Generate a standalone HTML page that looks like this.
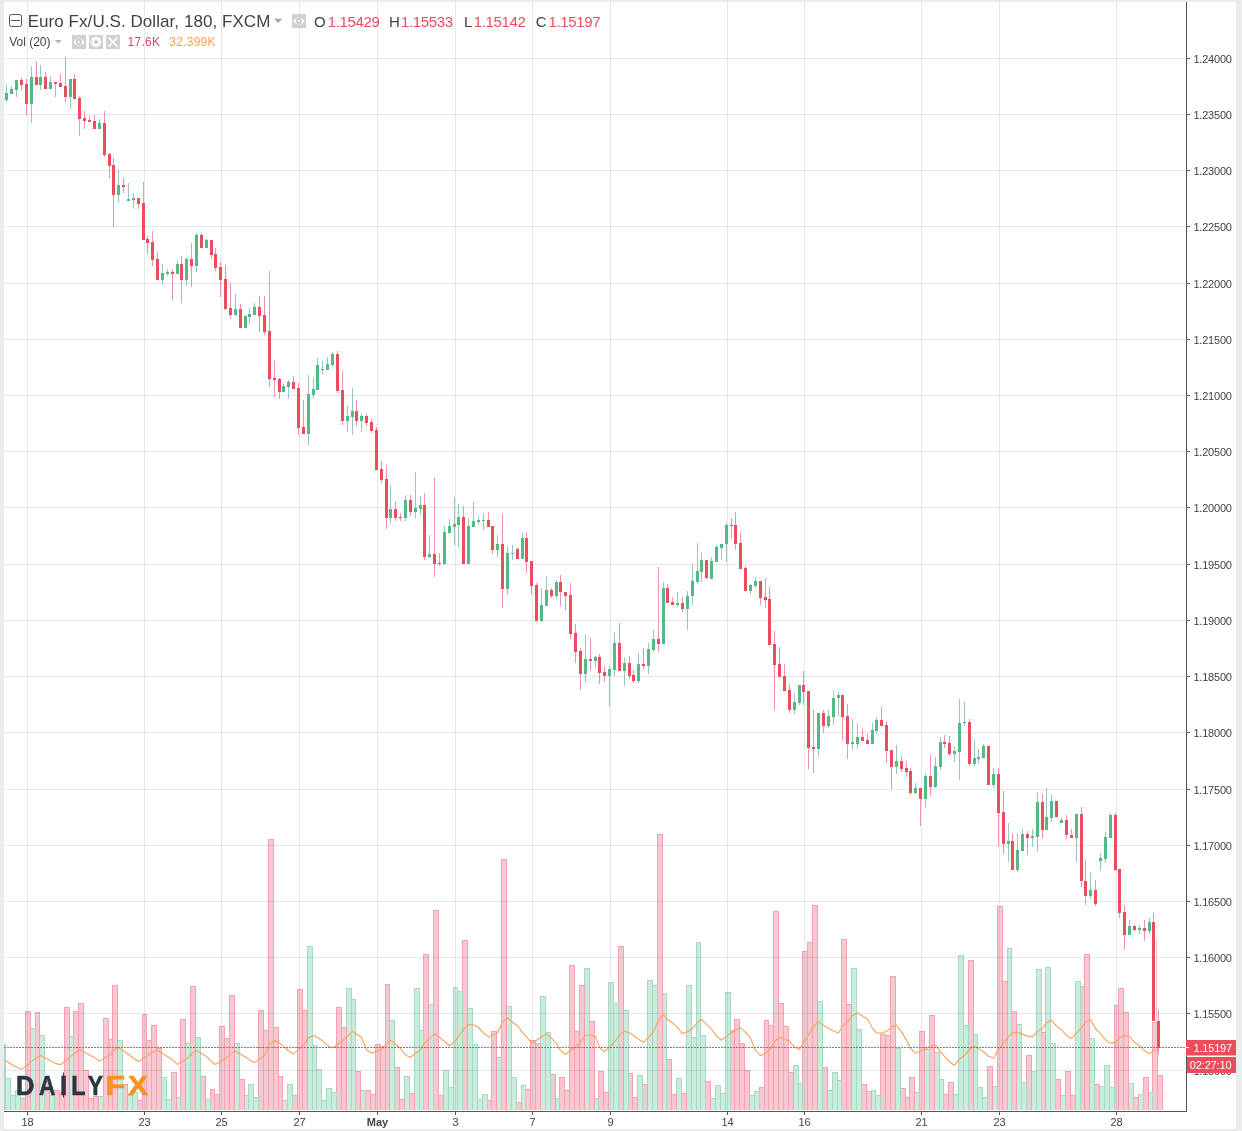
<!DOCTYPE html><html><head><meta charset="utf-8"><title>EUR/USD chart</title><style>html,body{margin:0;padding:0;background:#e9edf0;}body{width:1242px;height:1131px;position:relative;overflow:hidden;}</style></head><body><svg width="1242" height="1131" viewBox="0 0 1242 1131" style="position:absolute;left:0;top:0">
<rect x="0" y="0" width="1242" height="1131" fill="#e9edf0"/>
<rect x="4" y="2" width="1232" height="1127" rx="3" ry="3" fill="#ffffff"/>
<g shape-rendering="crispEdges">
<rect x="1157" y="1075" width="6" height="35" fill="#f2a2b4"/>
<rect x="1158" y="1076" width="4" height="34" fill="#f8c8d0"/>
<rect x="1152" y="1022" width="6" height="88" fill="#f2a2b4"/>
<rect x="1153" y="1023" width="4" height="87" fill="#f8c8d0"/>
<rect x="1148" y="1092" width="5" height="18" fill="#a5dbc3"/>
<rect x="1149" y="1093" width="3" height="17" fill="#caecdc"/>
<rect x="1143" y="1077" width="6" height="33" fill="#f2a2b4"/>
<rect x="1144" y="1078" width="4" height="32" fill="#f8c8d0"/>
<rect x="1138" y="1094" width="6" height="16" fill="#a5dbc3"/>
<rect x="1139" y="1095" width="4" height="15" fill="#caecdc"/>
<rect x="1133" y="1097" width="6" height="13" fill="#f2a2b4"/>
<rect x="1134" y="1098" width="4" height="12" fill="#f8c8d0"/>
<rect x="1128" y="1083" width="6" height="27" fill="#a5dbc3"/>
<rect x="1129" y="1084" width="4" height="26" fill="#caecdc"/>
<rect x="1123" y="1012" width="6" height="98" fill="#f2a2b4"/>
<rect x="1124" y="1013" width="4" height="97" fill="#f8c8d0"/>
<rect x="1118" y="988" width="6" height="122" fill="#f2a2b4"/>
<rect x="1119" y="989" width="4" height="121" fill="#f8c8d0"/>
<rect x="1114" y="1005" width="5" height="105" fill="#f2a2b4"/>
<rect x="1115" y="1006" width="3" height="104" fill="#f8c8d0"/>
<rect x="1109" y="1087" width="6" height="23" fill="#a5dbc3"/>
<rect x="1110" y="1088" width="4" height="22" fill="#caecdc"/>
<rect x="1104" y="1065" width="6" height="45" fill="#a5dbc3"/>
<rect x="1105" y="1066" width="4" height="44" fill="#caecdc"/>
<rect x="1099" y="1086" width="6" height="24" fill="#a5dbc3"/>
<rect x="1100" y="1087" width="4" height="23" fill="#caecdc"/>
<rect x="1094" y="1084" width="6" height="26" fill="#f2a2b4"/>
<rect x="1095" y="1085" width="4" height="25" fill="#f8c8d0"/>
<rect x="1089" y="1038" width="6" height="72" fill="#a5dbc3"/>
<rect x="1090" y="1039" width="4" height="71" fill="#caecdc"/>
<rect x="1084" y="954" width="6" height="156" fill="#f2a2b4"/>
<rect x="1085" y="955" width="4" height="155" fill="#f8c8d0"/>
<rect x="1080" y="986" width="5" height="124" fill="#f2a2b4"/>
<rect x="1081" y="987" width="3" height="123" fill="#f8c8d0"/>
<rect x="1075" y="981" width="6" height="129" fill="#a5dbc3"/>
<rect x="1076" y="982" width="4" height="128" fill="#caecdc"/>
<rect x="1070" y="1095" width="6" height="15" fill="#f2a2b4"/>
<rect x="1071" y="1096" width="4" height="14" fill="#f8c8d0"/>
<rect x="1065" y="1071" width="6" height="39" fill="#f2a2b4"/>
<rect x="1066" y="1072" width="4" height="38" fill="#f8c8d0"/>
<rect x="1060" y="1095" width="6" height="15" fill="#a5dbc3"/>
<rect x="1061" y="1096" width="4" height="14" fill="#caecdc"/>
<rect x="1055" y="1079" width="6" height="31" fill="#f2a2b4"/>
<rect x="1056" y="1080" width="4" height="30" fill="#f8c8d0"/>
<rect x="1050" y="1043" width="6" height="67" fill="#a5dbc3"/>
<rect x="1051" y="1044" width="4" height="66" fill="#caecdc"/>
<rect x="1045" y="967" width="6" height="143" fill="#a5dbc3"/>
<rect x="1046" y="968" width="4" height="142" fill="#caecdc"/>
<rect x="1041" y="1032" width="5" height="78" fill="#f2a2b4"/>
<rect x="1042" y="1033" width="3" height="77" fill="#f8c8d0"/>
<rect x="1036" y="969" width="6" height="141" fill="#a5dbc3"/>
<rect x="1037" y="970" width="4" height="140" fill="#caecdc"/>
<rect x="1031" y="1071" width="6" height="39" fill="#a5dbc3"/>
<rect x="1032" y="1072" width="4" height="38" fill="#caecdc"/>
<rect x="1026" y="1055" width="6" height="55" fill="#f2a2b4"/>
<rect x="1027" y="1056" width="4" height="54" fill="#f8c8d0"/>
<rect x="1021" y="1082" width="6" height="28" fill="#a5dbc3"/>
<rect x="1022" y="1083" width="4" height="27" fill="#caecdc"/>
<rect x="1016" y="1024" width="6" height="86" fill="#a5dbc3"/>
<rect x="1017" y="1025" width="4" height="85" fill="#caecdc"/>
<rect x="1011" y="1011" width="6" height="99" fill="#f2a2b4"/>
<rect x="1012" y="1012" width="4" height="98" fill="#f8c8d0"/>
<rect x="1007" y="948" width="5" height="162" fill="#a5dbc3"/>
<rect x="1008" y="949" width="3" height="161" fill="#caecdc"/>
<rect x="1002" y="981" width="6" height="129" fill="#f2a2b4"/>
<rect x="1003" y="982" width="4" height="128" fill="#f8c8d0"/>
<rect x="997" y="906" width="6" height="204" fill="#f2a2b4"/>
<rect x="998" y="907" width="4" height="203" fill="#f8c8d0"/>
<rect x="992" y="1086" width="6" height="24" fill="#a5dbc3"/>
<rect x="993" y="1087" width="4" height="23" fill="#caecdc"/>
<rect x="987" y="1066" width="6" height="44" fill="#f2a2b4"/>
<rect x="988" y="1067" width="4" height="43" fill="#f8c8d0"/>
<rect x="982" y="1097" width="6" height="13" fill="#a5dbc3"/>
<rect x="983" y="1098" width="4" height="12" fill="#caecdc"/>
<rect x="977" y="1087" width="6" height="23" fill="#a5dbc3"/>
<rect x="978" y="1088" width="4" height="22" fill="#caecdc"/>
<rect x="973" y="1034" width="5" height="76" fill="#a5dbc3"/>
<rect x="974" y="1035" width="3" height="75" fill="#caecdc"/>
<rect x="968" y="960" width="6" height="150" fill="#f2a2b4"/>
<rect x="969" y="961" width="4" height="149" fill="#f8c8d0"/>
<rect x="963" y="1025" width="6" height="85" fill="#a5dbc3"/>
<rect x="964" y="1026" width="4" height="84" fill="#caecdc"/>
<rect x="958" y="955" width="6" height="155" fill="#a5dbc3"/>
<rect x="959" y="956" width="4" height="154" fill="#caecdc"/>
<rect x="953" y="1094" width="6" height="16" fill="#a5dbc3"/>
<rect x="954" y="1095" width="4" height="15" fill="#caecdc"/>
<rect x="948" y="1082" width="6" height="28" fill="#f2a2b4"/>
<rect x="949" y="1083" width="4" height="27" fill="#f8c8d0"/>
<rect x="943" y="1094" width="6" height="16" fill="#f2a2b4"/>
<rect x="944" y="1095" width="4" height="15" fill="#f8c8d0"/>
<rect x="939" y="1079" width="5" height="31" fill="#a5dbc3"/>
<rect x="940" y="1080" width="3" height="30" fill="#caecdc"/>
<rect x="934" y="1052" width="6" height="58" fill="#a5dbc3"/>
<rect x="935" y="1053" width="4" height="57" fill="#caecdc"/>
<rect x="929" y="1015" width="6" height="95" fill="#f2a2b4"/>
<rect x="930" y="1016" width="4" height="94" fill="#f8c8d0"/>
<rect x="924" y="1049" width="6" height="61" fill="#a5dbc3"/>
<rect x="925" y="1050" width="4" height="60" fill="#caecdc"/>
<rect x="919" y="1031" width="6" height="79" fill="#f2a2b4"/>
<rect x="920" y="1032" width="4" height="78" fill="#f8c8d0"/>
<rect x="914" y="1092" width="6" height="18" fill="#a5dbc3"/>
<rect x="915" y="1093" width="4" height="17" fill="#caecdc"/>
<rect x="909" y="1077" width="6" height="33" fill="#f2a2b4"/>
<rect x="910" y="1078" width="4" height="32" fill="#f8c8d0"/>
<rect x="905" y="1097" width="5" height="13" fill="#f2a2b4"/>
<rect x="906" y="1098" width="3" height="12" fill="#f8c8d0"/>
<rect x="900" y="1088" width="6" height="22" fill="#f2a2b4"/>
<rect x="901" y="1089" width="4" height="21" fill="#f8c8d0"/>
<rect x="895" y="1048" width="6" height="62" fill="#a5dbc3"/>
<rect x="896" y="1049" width="4" height="61" fill="#caecdc"/>
<rect x="890" y="976" width="6" height="134" fill="#f2a2b4"/>
<rect x="891" y="977" width="4" height="133" fill="#f8c8d0"/>
<rect x="885" y="1035" width="6" height="75" fill="#f2a2b4"/>
<rect x="886" y="1036" width="4" height="74" fill="#f8c8d0"/>
<rect x="880" y="1034" width="6" height="76" fill="#f2a2b4"/>
<rect x="881" y="1035" width="4" height="75" fill="#f8c8d0"/>
<rect x="875" y="1095" width="6" height="15" fill="#a5dbc3"/>
<rect x="876" y="1096" width="4" height="14" fill="#caecdc"/>
<rect x="871" y="1090" width="5" height="20" fill="#a5dbc3"/>
<rect x="872" y="1091" width="3" height="19" fill="#caecdc"/>
<rect x="866" y="1091" width="6" height="19" fill="#f2a2b4"/>
<rect x="867" y="1092" width="4" height="18" fill="#f8c8d0"/>
<rect x="861" y="1084" width="6" height="26" fill="#f2a2b4"/>
<rect x="862" y="1085" width="4" height="25" fill="#f8c8d0"/>
<rect x="856" y="1029" width="6" height="81" fill="#a5dbc3"/>
<rect x="857" y="1030" width="4" height="80" fill="#caecdc"/>
<rect x="851" y="968" width="6" height="142" fill="#a5dbc3"/>
<rect x="852" y="969" width="4" height="141" fill="#caecdc"/>
<rect x="846" y="1004" width="6" height="106" fill="#f2a2b4"/>
<rect x="847" y="1005" width="4" height="105" fill="#f8c8d0"/>
<rect x="841" y="939" width="6" height="171" fill="#f2a2b4"/>
<rect x="842" y="940" width="4" height="170" fill="#f8c8d0"/>
<rect x="837" y="1080" width="5" height="30" fill="#a5dbc3"/>
<rect x="838" y="1081" width="3" height="29" fill="#caecdc"/>
<rect x="832" y="1072" width="6" height="38" fill="#a5dbc3"/>
<rect x="833" y="1073" width="4" height="37" fill="#caecdc"/>
<rect x="827" y="1090" width="6" height="20" fill="#a5dbc3"/>
<rect x="828" y="1091" width="4" height="19" fill="#caecdc"/>
<rect x="822" y="1067" width="6" height="43" fill="#f2a2b4"/>
<rect x="823" y="1068" width="4" height="42" fill="#f8c8d0"/>
<rect x="817" y="1001" width="6" height="109" fill="#a5dbc3"/>
<rect x="818" y="1002" width="4" height="108" fill="#caecdc"/>
<rect x="812" y="905" width="6" height="205" fill="#f2a2b4"/>
<rect x="813" y="906" width="4" height="204" fill="#f8c8d0"/>
<rect x="807" y="942" width="6" height="168" fill="#f2a2b4"/>
<rect x="808" y="943" width="4" height="167" fill="#f8c8d0"/>
<rect x="802" y="951" width="6" height="159" fill="#f2a2b4"/>
<rect x="803" y="952" width="4" height="158" fill="#f8c8d0"/>
<rect x="798" y="1083" width="5" height="27" fill="#a5dbc3"/>
<rect x="799" y="1084" width="3" height="26" fill="#caecdc"/>
<rect x="793" y="1065" width="6" height="45" fill="#a5dbc3"/>
<rect x="794" y="1066" width="4" height="44" fill="#caecdc"/>
<rect x="788" y="1072" width="6" height="38" fill="#f2a2b4"/>
<rect x="789" y="1073" width="4" height="37" fill="#f8c8d0"/>
<rect x="783" y="1026" width="6" height="84" fill="#f2a2b4"/>
<rect x="784" y="1027" width="4" height="83" fill="#f8c8d0"/>
<rect x="778" y="1003" width="6" height="107" fill="#f2a2b4"/>
<rect x="779" y="1004" width="4" height="106" fill="#f8c8d0"/>
<rect x="773" y="911" width="6" height="199" fill="#f2a2b4"/>
<rect x="774" y="912" width="4" height="198" fill="#f8c8d0"/>
<rect x="768" y="1025" width="6" height="85" fill="#f2a2b4"/>
<rect x="769" y="1026" width="4" height="84" fill="#f8c8d0"/>
<rect x="764" y="1020" width="5" height="90" fill="#f2a2b4"/>
<rect x="765" y="1021" width="3" height="89" fill="#f8c8d0"/>
<rect x="759" y="1087" width="6" height="23" fill="#f2a2b4"/>
<rect x="760" y="1088" width="4" height="22" fill="#f8c8d0"/>
<rect x="754" y="1091" width="6" height="19" fill="#a5dbc3"/>
<rect x="755" y="1092" width="4" height="18" fill="#caecdc"/>
<rect x="749" y="1095" width="6" height="15" fill="#a5dbc3"/>
<rect x="750" y="1096" width="4" height="14" fill="#caecdc"/>
<rect x="744" y="1070" width="6" height="40" fill="#f2a2b4"/>
<rect x="745" y="1071" width="4" height="39" fill="#f8c8d0"/>
<rect x="739" y="1043" width="6" height="67" fill="#f2a2b4"/>
<rect x="740" y="1044" width="4" height="66" fill="#f8c8d0"/>
<rect x="734" y="1019" width="6" height="91" fill="#f2a2b4"/>
<rect x="735" y="1020" width="4" height="90" fill="#f8c8d0"/>
<rect x="730" y="1030" width="5" height="80" fill="#f2a2b4"/>
<rect x="731" y="1031" width="3" height="79" fill="#f8c8d0"/>
<rect x="725" y="992" width="6" height="118" fill="#a5dbc3"/>
<rect x="726" y="993" width="4" height="117" fill="#caecdc"/>
<rect x="720" y="1093" width="6" height="17" fill="#a5dbc3"/>
<rect x="721" y="1094" width="4" height="16" fill="#caecdc"/>
<rect x="715" y="1085" width="6" height="25" fill="#a5dbc3"/>
<rect x="716" y="1086" width="4" height="24" fill="#caecdc"/>
<rect x="710" y="1098" width="6" height="12" fill="#a5dbc3"/>
<rect x="711" y="1099" width="4" height="11" fill="#caecdc"/>
<rect x="705" y="1081" width="6" height="29" fill="#f2a2b4"/>
<rect x="706" y="1082" width="4" height="28" fill="#f8c8d0"/>
<rect x="700" y="1035" width="6" height="75" fill="#a5dbc3"/>
<rect x="701" y="1036" width="4" height="74" fill="#caecdc"/>
<rect x="696" y="942" width="5" height="168" fill="#a5dbc3"/>
<rect x="697" y="943" width="3" height="167" fill="#caecdc"/>
<rect x="691" y="1037" width="6" height="73" fill="#a5dbc3"/>
<rect x="692" y="1038" width="4" height="72" fill="#caecdc"/>
<rect x="686" y="985" width="6" height="125" fill="#a5dbc3"/>
<rect x="687" y="986" width="4" height="124" fill="#caecdc"/>
<rect x="681" y="1093" width="6" height="17" fill="#f2a2b4"/>
<rect x="682" y="1094" width="4" height="16" fill="#f8c8d0"/>
<rect x="676" y="1078" width="6" height="32" fill="#a5dbc3"/>
<rect x="677" y="1079" width="4" height="31" fill="#caecdc"/>
<rect x="671" y="1094" width="6" height="16" fill="#f2a2b4"/>
<rect x="672" y="1095" width="4" height="15" fill="#f8c8d0"/>
<rect x="666" y="1059" width="6" height="51" fill="#f2a2b4"/>
<rect x="667" y="1060" width="4" height="50" fill="#f8c8d0"/>
<rect x="662" y="993" width="5" height="117" fill="#a5dbc3"/>
<rect x="663" y="994" width="3" height="116" fill="#caecdc"/>
<rect x="657" y="834" width="6" height="276" fill="#f2a2b4"/>
<rect x="658" y="835" width="4" height="275" fill="#f8c8d0"/>
<rect x="652" y="985" width="6" height="125" fill="#a5dbc3"/>
<rect x="653" y="986" width="4" height="124" fill="#caecdc"/>
<rect x="647" y="980" width="6" height="130" fill="#a5dbc3"/>
<rect x="648" y="981" width="4" height="129" fill="#caecdc"/>
<rect x="642" y="1084" width="6" height="26" fill="#f2a2b4"/>
<rect x="643" y="1085" width="4" height="25" fill="#f8c8d0"/>
<rect x="637" y="1075" width="6" height="35" fill="#a5dbc3"/>
<rect x="638" y="1076" width="4" height="34" fill="#caecdc"/>
<rect x="632" y="1097" width="6" height="13" fill="#f2a2b4"/>
<rect x="633" y="1098" width="4" height="12" fill="#f8c8d0"/>
<rect x="628" y="1073" width="5" height="37" fill="#f2a2b4"/>
<rect x="629" y="1074" width="3" height="36" fill="#f8c8d0"/>
<rect x="623" y="1010" width="6" height="100" fill="#a5dbc3"/>
<rect x="624" y="1011" width="4" height="99" fill="#caecdc"/>
<rect x="618" y="946" width="6" height="164" fill="#f2a2b4"/>
<rect x="619" y="947" width="4" height="163" fill="#f8c8d0"/>
<rect x="613" y="1003" width="6" height="107" fill="#a5dbc3"/>
<rect x="614" y="1004" width="4" height="106" fill="#caecdc"/>
<rect x="608" y="982" width="6" height="128" fill="#a5dbc3"/>
<rect x="609" y="983" width="4" height="127" fill="#caecdc"/>
<rect x="603" y="1092" width="6" height="18" fill="#f2a2b4"/>
<rect x="604" y="1093" width="4" height="17" fill="#f8c8d0"/>
<rect x="598" y="1071" width="6" height="39" fill="#f2a2b4"/>
<rect x="599" y="1072" width="4" height="38" fill="#f8c8d0"/>
<rect x="594" y="1098" width="5" height="12" fill="#a5dbc3"/>
<rect x="595" y="1099" width="3" height="11" fill="#caecdc"/>
<rect x="589" y="1021" width="6" height="89" fill="#f2a2b4"/>
<rect x="590" y="1022" width="4" height="88" fill="#f8c8d0"/>
<rect x="584" y="968" width="6" height="142" fill="#a5dbc3"/>
<rect x="585" y="969" width="4" height="141" fill="#caecdc"/>
<rect x="579" y="985" width="6" height="125" fill="#f2a2b4"/>
<rect x="580" y="986" width="4" height="124" fill="#f8c8d0"/>
<rect x="574" y="1031" width="6" height="79" fill="#f2a2b4"/>
<rect x="575" y="1032" width="4" height="78" fill="#f8c8d0"/>
<rect x="569" y="965" width="6" height="145" fill="#f2a2b4"/>
<rect x="570" y="966" width="4" height="144" fill="#f8c8d0"/>
<rect x="564" y="1090" width="6" height="20" fill="#f2a2b4"/>
<rect x="565" y="1091" width="4" height="19" fill="#f8c8d0"/>
<rect x="559" y="1077" width="6" height="33" fill="#f2a2b4"/>
<rect x="560" y="1078" width="4" height="32" fill="#f8c8d0"/>
<rect x="555" y="1098" width="5" height="12" fill="#a5dbc3"/>
<rect x="556" y="1099" width="3" height="11" fill="#caecdc"/>
<rect x="550" y="1074" width="6" height="36" fill="#f2a2b4"/>
<rect x="551" y="1075" width="4" height="35" fill="#f8c8d0"/>
<rect x="545" y="1032" width="6" height="78" fill="#a5dbc3"/>
<rect x="546" y="1033" width="4" height="77" fill="#caecdc"/>
<rect x="540" y="996" width="6" height="114" fill="#a5dbc3"/>
<rect x="541" y="997" width="4" height="113" fill="#caecdc"/>
<rect x="535" y="1043" width="6" height="67" fill="#f2a2b4"/>
<rect x="536" y="1044" width="4" height="66" fill="#f8c8d0"/>
<rect x="530" y="1040" width="6" height="70" fill="#f2a2b4"/>
<rect x="531" y="1041" width="4" height="69" fill="#f8c8d0"/>
<rect x="525" y="1089" width="6" height="21" fill="#f2a2b4"/>
<rect x="526" y="1090" width="4" height="20" fill="#f8c8d0"/>
<rect x="521" y="1085" width="5" height="25" fill="#a5dbc3"/>
<rect x="522" y="1086" width="3" height="24" fill="#caecdc"/>
<rect x="516" y="1102" width="6" height="8" fill="#f2a2b4"/>
<rect x="517" y="1103" width="4" height="7" fill="#f8c8d0"/>
<rect x="511" y="1077" width="6" height="33" fill="#a5dbc3"/>
<rect x="512" y="1078" width="4" height="32" fill="#caecdc"/>
<rect x="506" y="1006" width="6" height="104" fill="#a5dbc3"/>
<rect x="507" y="1007" width="4" height="103" fill="#caecdc"/>
<rect x="501" y="859" width="6" height="251" fill="#f2a2b4"/>
<rect x="502" y="860" width="4" height="250" fill="#f8c8d0"/>
<rect x="496" y="1057" width="6" height="53" fill="#a5dbc3"/>
<rect x="497" y="1058" width="4" height="52" fill="#caecdc"/>
<rect x="491" y="1031" width="6" height="79" fill="#f2a2b4"/>
<rect x="492" y="1032" width="4" height="78" fill="#f8c8d0"/>
<rect x="487" y="1100" width="5" height="10" fill="#f2a2b4"/>
<rect x="488" y="1101" width="3" height="9" fill="#f8c8d0"/>
<rect x="482" y="1094" width="6" height="16" fill="#a5dbc3"/>
<rect x="483" y="1095" width="4" height="15" fill="#caecdc"/>
<rect x="477" y="1099" width="6" height="11" fill="#a5dbc3"/>
<rect x="478" y="1100" width="4" height="10" fill="#caecdc"/>
<rect x="472" y="1044" width="6" height="66" fill="#a5dbc3"/>
<rect x="473" y="1045" width="4" height="65" fill="#caecdc"/>
<rect x="467" y="1008" width="6" height="102" fill="#a5dbc3"/>
<rect x="468" y="1009" width="4" height="101" fill="#caecdc"/>
<rect x="462" y="940" width="6" height="170" fill="#f2a2b4"/>
<rect x="463" y="941" width="4" height="169" fill="#f8c8d0"/>
<rect x="457" y="991" width="6" height="119" fill="#a5dbc3"/>
<rect x="458" y="992" width="4" height="118" fill="#caecdc"/>
<rect x="453" y="987" width="5" height="123" fill="#a5dbc3"/>
<rect x="454" y="988" width="3" height="122" fill="#caecdc"/>
<rect x="448" y="1087" width="6" height="23" fill="#a5dbc3"/>
<rect x="449" y="1088" width="4" height="22" fill="#caecdc"/>
<rect x="443" y="1070" width="6" height="40" fill="#a5dbc3"/>
<rect x="444" y="1071" width="4" height="39" fill="#caecdc"/>
<rect x="438" y="1095" width="6" height="15" fill="#f2a2b4"/>
<rect x="439" y="1096" width="4" height="14" fill="#f8c8d0"/>
<rect x="433" y="910" width="6" height="200" fill="#f2a2b4"/>
<rect x="434" y="911" width="4" height="199" fill="#f8c8d0"/>
<rect x="428" y="1004" width="6" height="106" fill="#a5dbc3"/>
<rect x="429" y="1005" width="4" height="105" fill="#caecdc"/>
<rect x="423" y="954" width="6" height="156" fill="#f2a2b4"/>
<rect x="424" y="955" width="4" height="155" fill="#f8c8d0"/>
<rect x="419" y="1030" width="5" height="80" fill="#a5dbc3"/>
<rect x="420" y="1031" width="3" height="79" fill="#caecdc"/>
<rect x="414" y="988" width="6" height="122" fill="#a5dbc3"/>
<rect x="415" y="989" width="4" height="121" fill="#caecdc"/>
<rect x="409" y="1093" width="6" height="17" fill="#f2a2b4"/>
<rect x="410" y="1094" width="4" height="16" fill="#f8c8d0"/>
<rect x="404" y="1076" width="6" height="34" fill="#a5dbc3"/>
<rect x="405" y="1077" width="4" height="33" fill="#caecdc"/>
<rect x="399" y="1099" width="6" height="11" fill="#f2a2b4"/>
<rect x="400" y="1100" width="4" height="10" fill="#f8c8d0"/>
<rect x="394" y="1067" width="6" height="43" fill="#f2a2b4"/>
<rect x="395" y="1068" width="4" height="42" fill="#f8c8d0"/>
<rect x="389" y="1020" width="6" height="90" fill="#a5dbc3"/>
<rect x="390" y="1021" width="4" height="89" fill="#caecdc"/>
<rect x="385" y="984" width="5" height="126" fill="#f2a2b4"/>
<rect x="386" y="985" width="3" height="125" fill="#f8c8d0"/>
<rect x="380" y="1046" width="6" height="64" fill="#f2a2b4"/>
<rect x="381" y="1047" width="4" height="63" fill="#f8c8d0"/>
<rect x="375" y="1044" width="6" height="66" fill="#f2a2b4"/>
<rect x="376" y="1045" width="4" height="65" fill="#f8c8d0"/>
<rect x="370" y="1094" width="6" height="16" fill="#f2a2b4"/>
<rect x="371" y="1095" width="4" height="15" fill="#f8c8d0"/>
<rect x="365" y="1090" width="6" height="20" fill="#f2a2b4"/>
<rect x="366" y="1091" width="4" height="19" fill="#f8c8d0"/>
<rect x="360" y="1090" width="6" height="20" fill="#a5dbc3"/>
<rect x="361" y="1091" width="4" height="19" fill="#caecdc"/>
<rect x="355" y="1071" width="6" height="39" fill="#f2a2b4"/>
<rect x="356" y="1072" width="4" height="38" fill="#f8c8d0"/>
<rect x="351" y="999" width="5" height="111" fill="#a5dbc3"/>
<rect x="352" y="1000" width="3" height="110" fill="#caecdc"/>
<rect x="346" y="988" width="6" height="122" fill="#a5dbc3"/>
<rect x="347" y="989" width="4" height="121" fill="#caecdc"/>
<rect x="341" y="1027" width="6" height="83" fill="#f2a2b4"/>
<rect x="342" y="1028" width="4" height="82" fill="#f8c8d0"/>
<rect x="336" y="1007" width="6" height="103" fill="#f2a2b4"/>
<rect x="337" y="1008" width="4" height="102" fill="#f8c8d0"/>
<rect x="331" y="1092" width="6" height="18" fill="#a5dbc3"/>
<rect x="332" y="1093" width="4" height="17" fill="#caecdc"/>
<rect x="326" y="1088" width="6" height="22" fill="#a5dbc3"/>
<rect x="327" y="1089" width="4" height="21" fill="#caecdc"/>
<rect x="321" y="1100" width="6" height="10" fill="#a5dbc3"/>
<rect x="322" y="1101" width="4" height="9" fill="#caecdc"/>
<rect x="316" y="1069" width="6" height="41" fill="#a5dbc3"/>
<rect x="317" y="1070" width="4" height="40" fill="#caecdc"/>
<rect x="312" y="1045" width="5" height="65" fill="#a5dbc3"/>
<rect x="313" y="1046" width="3" height="64" fill="#caecdc"/>
<rect x="307" y="946" width="6" height="164" fill="#a5dbc3"/>
<rect x="308" y="947" width="4" height="163" fill="#caecdc"/>
<rect x="302" y="1010" width="6" height="100" fill="#f2a2b4"/>
<rect x="303" y="1011" width="4" height="99" fill="#f8c8d0"/>
<rect x="297" y="989" width="6" height="121" fill="#f2a2b4"/>
<rect x="298" y="990" width="4" height="120" fill="#f8c8d0"/>
<rect x="292" y="1095" width="6" height="15" fill="#f2a2b4"/>
<rect x="293" y="1096" width="4" height="14" fill="#f8c8d0"/>
<rect x="287" y="1084" width="6" height="26" fill="#a5dbc3"/>
<rect x="288" y="1085" width="4" height="25" fill="#caecdc"/>
<rect x="282" y="1100" width="6" height="10" fill="#a5dbc3"/>
<rect x="283" y="1101" width="4" height="9" fill="#caecdc"/>
<rect x="278" y="1076" width="5" height="34" fill="#f2a2b4"/>
<rect x="279" y="1077" width="3" height="33" fill="#f8c8d0"/>
<rect x="273" y="1027" width="6" height="83" fill="#f2a2b4"/>
<rect x="274" y="1028" width="4" height="82" fill="#f8c8d0"/>
<rect x="268" y="839" width="6" height="271" fill="#f2a2b4"/>
<rect x="269" y="840" width="4" height="270" fill="#f8c8d0"/>
<rect x="263" y="1030" width="6" height="80" fill="#f2a2b4"/>
<rect x="264" y="1031" width="4" height="79" fill="#f8c8d0"/>
<rect x="258" y="1010" width="6" height="100" fill="#f2a2b4"/>
<rect x="259" y="1011" width="4" height="99" fill="#f8c8d0"/>
<rect x="253" y="1097" width="6" height="13" fill="#a5dbc3"/>
<rect x="254" y="1098" width="4" height="12" fill="#caecdc"/>
<rect x="248" y="1084" width="6" height="26" fill="#a5dbc3"/>
<rect x="249" y="1085" width="4" height="25" fill="#caecdc"/>
<rect x="244" y="1095" width="5" height="15" fill="#a5dbc3"/>
<rect x="245" y="1096" width="3" height="14" fill="#caecdc"/>
<rect x="239" y="1079" width="6" height="31" fill="#f2a2b4"/>
<rect x="240" y="1080" width="4" height="30" fill="#f8c8d0"/>
<rect x="234" y="1043" width="6" height="67" fill="#a5dbc3"/>
<rect x="235" y="1044" width="4" height="66" fill="#caecdc"/>
<rect x="229" y="995" width="6" height="115" fill="#f2a2b4"/>
<rect x="230" y="996" width="4" height="114" fill="#f8c8d0"/>
<rect x="224" y="1038" width="6" height="72" fill="#f2a2b4"/>
<rect x="225" y="1039" width="4" height="71" fill="#f8c8d0"/>
<rect x="219" y="1026" width="6" height="84" fill="#f2a2b4"/>
<rect x="220" y="1027" width="4" height="83" fill="#f8c8d0"/>
<rect x="214" y="1094" width="6" height="16" fill="#f2a2b4"/>
<rect x="215" y="1095" width="4" height="15" fill="#f8c8d0"/>
<rect x="210" y="1089" width="5" height="21" fill="#f2a2b4"/>
<rect x="211" y="1090" width="3" height="20" fill="#f8c8d0"/>
<rect x="205" y="1099" width="6" height="11" fill="#a5dbc3"/>
<rect x="206" y="1100" width="4" height="10" fill="#caecdc"/>
<rect x="200" y="1076" width="6" height="34" fill="#f2a2b4"/>
<rect x="201" y="1077" width="4" height="33" fill="#f8c8d0"/>
<rect x="195" y="1037" width="6" height="73" fill="#a5dbc3"/>
<rect x="196" y="1038" width="4" height="72" fill="#caecdc"/>
<rect x="190" y="986" width="6" height="124" fill="#f2a2b4"/>
<rect x="191" y="987" width="4" height="123" fill="#f8c8d0"/>
<rect x="185" y="1043" width="6" height="67" fill="#a5dbc3"/>
<rect x="186" y="1044" width="4" height="66" fill="#caecdc"/>
<rect x="180" y="1019" width="6" height="91" fill="#f2a2b4"/>
<rect x="181" y="1020" width="4" height="90" fill="#f8c8d0"/>
<rect x="176" y="1097" width="5" height="13" fill="#a5dbc3"/>
<rect x="177" y="1098" width="3" height="12" fill="#caecdc"/>
<rect x="171" y="1072" width="6" height="38" fill="#f2a2b4"/>
<rect x="172" y="1073" width="4" height="37" fill="#f8c8d0"/>
<rect x="166" y="1099" width="6" height="11" fill="#a5dbc3"/>
<rect x="167" y="1100" width="4" height="10" fill="#caecdc"/>
<rect x="161" y="1077" width="6" height="33" fill="#a5dbc3"/>
<rect x="162" y="1078" width="4" height="32" fill="#caecdc"/>
<rect x="156" y="1048" width="6" height="62" fill="#f2a2b4"/>
<rect x="157" y="1049" width="4" height="61" fill="#f8c8d0"/>
<rect x="151" y="1025" width="6" height="85" fill="#f2a2b4"/>
<rect x="152" y="1026" width="4" height="84" fill="#f8c8d0"/>
<rect x="146" y="1040" width="6" height="70" fill="#f2a2b4"/>
<rect x="147" y="1041" width="4" height="69" fill="#f8c8d0"/>
<rect x="142" y="1014" width="5" height="96" fill="#f2a2b4"/>
<rect x="143" y="1015" width="3" height="95" fill="#f8c8d0"/>
<rect x="137" y="1100" width="6" height="10" fill="#f2a2b4"/>
<rect x="138" y="1101" width="4" height="9" fill="#f8c8d0"/>
<rect x="132" y="1092" width="6" height="18" fill="#a5dbc3"/>
<rect x="133" y="1093" width="4" height="17" fill="#caecdc"/>
<rect x="127" y="1095" width="6" height="15" fill="#a5dbc3"/>
<rect x="128" y="1096" width="4" height="14" fill="#caecdc"/>
<rect x="122" y="1084" width="6" height="26" fill="#f2a2b4"/>
<rect x="123" y="1085" width="4" height="25" fill="#f8c8d0"/>
<rect x="117" y="1040" width="6" height="70" fill="#a5dbc3"/>
<rect x="118" y="1041" width="4" height="69" fill="#caecdc"/>
<rect x="112" y="985" width="6" height="125" fill="#f2a2b4"/>
<rect x="113" y="986" width="4" height="124" fill="#f8c8d0"/>
<rect x="108" y="1039" width="5" height="71" fill="#f2a2b4"/>
<rect x="109" y="1040" width="3" height="70" fill="#f8c8d0"/>
<rect x="103" y="1018" width="6" height="92" fill="#f2a2b4"/>
<rect x="104" y="1019" width="4" height="91" fill="#f8c8d0"/>
<rect x="98" y="1096" width="6" height="14" fill="#a5dbc3"/>
<rect x="99" y="1097" width="4" height="13" fill="#caecdc"/>
<rect x="93" y="1096" width="6" height="14" fill="#f2a2b4"/>
<rect x="94" y="1097" width="4" height="13" fill="#f8c8d0"/>
<rect x="88" y="1098" width="6" height="12" fill="#f2a2b4"/>
<rect x="89" y="1099" width="4" height="11" fill="#f8c8d0"/>
<rect x="83" y="1070" width="6" height="40" fill="#f2a2b4"/>
<rect x="84" y="1071" width="4" height="39" fill="#f8c8d0"/>
<rect x="78" y="1003" width="6" height="107" fill="#f2a2b4"/>
<rect x="79" y="1004" width="4" height="106" fill="#f8c8d0"/>
<rect x="73" y="1011" width="6" height="99" fill="#f2a2b4"/>
<rect x="74" y="1012" width="4" height="98" fill="#f8c8d0"/>
<rect x="69" y="1036" width="5" height="74" fill="#a5dbc3"/>
<rect x="70" y="1037" width="3" height="73" fill="#caecdc"/>
<rect x="64" y="1007" width="6" height="103" fill="#f2a2b4"/>
<rect x="65" y="1008" width="4" height="102" fill="#f8c8d0"/>
<rect x="59" y="1092" width="6" height="18" fill="#f2a2b4"/>
<rect x="60" y="1093" width="4" height="17" fill="#f8c8d0"/>
<rect x="54" y="1090" width="6" height="20" fill="#f2a2b4"/>
<rect x="55" y="1091" width="4" height="19" fill="#f8c8d0"/>
<rect x="49" y="1095" width="6" height="15" fill="#a5dbc3"/>
<rect x="50" y="1096" width="4" height="14" fill="#caecdc"/>
<rect x="44" y="1081" width="6" height="29" fill="#f2a2b4"/>
<rect x="45" y="1082" width="4" height="28" fill="#f8c8d0"/>
<rect x="39" y="1035" width="6" height="75" fill="#a5dbc3"/>
<rect x="40" y="1036" width="4" height="74" fill="#caecdc"/>
<rect x="35" y="1012" width="5" height="98" fill="#f2a2b4"/>
<rect x="36" y="1013" width="3" height="97" fill="#f8c8d0"/>
<rect x="30" y="1028" width="6" height="82" fill="#a5dbc3"/>
<rect x="31" y="1029" width="4" height="81" fill="#caecdc"/>
<rect x="25" y="1011" width="6" height="99" fill="#f2a2b4"/>
<rect x="26" y="1012" width="4" height="98" fill="#f8c8d0"/>
<rect x="20" y="1098" width="6" height="12" fill="#f2a2b4"/>
<rect x="21" y="1099" width="4" height="11" fill="#f8c8d0"/>
<rect x="15" y="1090" width="6" height="20" fill="#a5dbc3"/>
<rect x="16" y="1091" width="4" height="19" fill="#caecdc"/>
<rect x="10" y="1095" width="6" height="15" fill="#a5dbc3"/>
<rect x="11" y="1096" width="4" height="14" fill="#caecdc"/>
<rect x="5" y="1078" width="6" height="32" fill="#a5dbc3"/>
<rect x="6" y="1079" width="4" height="31" fill="#caecdc"/>
<rect x="4" y="1044" width="2" height="66" fill="#a5dbc3"/>
</g>
<g shape-rendering="crispEdges">
<rect x="4" y="58" width="1181" height="1" fill="rgba(40,94,101,0.13)"/>
<rect x="4" y="114" width="1181" height="1" fill="rgba(40,94,101,0.13)"/>
<rect x="4" y="170" width="1181" height="1" fill="rgba(40,94,101,0.13)"/>
<rect x="4" y="226" width="1181" height="1" fill="rgba(40,94,101,0.13)"/>
<rect x="4" y="283" width="1181" height="1" fill="rgba(40,94,101,0.13)"/>
<rect x="4" y="339" width="1181" height="1" fill="rgba(40,94,101,0.13)"/>
<rect x="4" y="395" width="1181" height="1" fill="rgba(40,94,101,0.13)"/>
<rect x="4" y="451" width="1181" height="1" fill="rgba(40,94,101,0.13)"/>
<rect x="4" y="507" width="1181" height="1" fill="rgba(40,94,101,0.13)"/>
<rect x="4" y="564" width="1181" height="1" fill="rgba(40,94,101,0.13)"/>
<rect x="4" y="620" width="1181" height="1" fill="rgba(40,94,101,0.13)"/>
<rect x="4" y="676" width="1181" height="1" fill="rgba(40,94,101,0.13)"/>
<rect x="4" y="732" width="1181" height="1" fill="rgba(40,94,101,0.13)"/>
<rect x="4" y="789" width="1181" height="1" fill="rgba(40,94,101,0.13)"/>
<rect x="4" y="845" width="1181" height="1" fill="rgba(40,94,101,0.13)"/>
<rect x="4" y="901" width="1181" height="1" fill="rgba(40,94,101,0.13)"/>
<rect x="4" y="957" width="1181" height="1" fill="rgba(40,94,101,0.13)"/>
<rect x="4" y="1013" width="1181" height="1" fill="rgba(40,94,101,0.13)"/>
<rect x="4" y="1070" width="1181" height="1" fill="rgba(40,94,101,0.13)"/>
<rect x="27" y="2" width="1" height="1109" fill="rgba(40,94,101,0.13)"/>
<rect x="144" y="2" width="1" height="1109" fill="rgba(40,94,101,0.13)"/>
<rect x="221" y="2" width="1" height="1109" fill="rgba(40,94,101,0.13)"/>
<rect x="299" y="2" width="1" height="1109" fill="rgba(40,94,101,0.13)"/>
<rect x="377" y="2" width="1" height="1109" fill="rgba(40,94,101,0.13)"/>
<rect x="455" y="2" width="1" height="1109" fill="rgba(40,94,101,0.13)"/>
<rect x="532" y="2" width="1" height="1109" fill="rgba(40,94,101,0.13)"/>
<rect x="610" y="2" width="1" height="1109" fill="rgba(40,94,101,0.13)"/>
<rect x="727" y="2" width="1" height="1109" fill="rgba(40,94,101,0.13)"/>
<rect x="804" y="2" width="1" height="1109" fill="rgba(40,94,101,0.13)"/>
<rect x="921" y="2" width="1" height="1109" fill="rgba(40,94,101,0.13)"/>
<rect x="999" y="2" width="1" height="1109" fill="rgba(40,94,101,0.13)"/>
<rect x="1116" y="2" width="1" height="1109" fill="rgba(40,94,101,0.13)"/>
</g>
<polyline fill="none" stroke="#f8a462" stroke-width="1.15" stroke-linejoin="round" points="4.0,1060.0 6.5,1061.3 11.5,1064.2 16.5,1067.0 21.5,1069.4 26.5,1065.5 31.5,1061.6 36.5,1057.7 40.5,1055.6 45.5,1058.2 50.5,1060.8 55.5,1063.4 60.5,1064.8 65.5,1060.7 70.5,1056.6 74.5,1053.4 79.5,1049.3 84.5,1052.1 89.5,1054.9 94.5,1057.6 99.5,1061.2 104.5,1058.2 109.5,1055.4 113.5,1050.2 118.5,1047.3 123.5,1050.9 128.5,1054.3 133.5,1058.3 138.5,1061.5 143.5,1058.2 147.5,1055.4 152.5,1052.2 157.5,1050.0 162.5,1053.5 167.5,1056.6 172.5,1059.7 177.5,1064.4 181.5,1061.8 186.5,1059.1 191.5,1053.6 196.5,1050.6 201.5,1053.5 206.5,1056.5 211.5,1061.7 215.5,1064.4 220.5,1061.5 225.5,1058.7 230.5,1053.8 235.5,1051.0 240.5,1054.2 245.5,1057.0 249.5,1059.9 254.5,1062.4 259.5,1059.0 264.5,1055.6 269.5,1043.9 274.5,1040.4 279.5,1043.3 283.5,1046.1 288.5,1051.0 293.5,1053.9 298.5,1049.6 303.5,1045.1 308.5,1038.0 313.5,1035.5 317.5,1037.7 322.5,1040.8 327.5,1045.4 332.5,1047.9 337.5,1044.3 342.5,1040.9 347.5,1036.1 352.5,1031.2 356.5,1034.2 361.5,1037.2 366.5,1049.8 371.5,1053.1 376.5,1051.5 381.5,1048.8 386.5,1043.8 390.5,1040.1 395.5,1044.0 400.5,1048.5 405.5,1055.0 410.5,1057.4 415.5,1053.3 420.5,1049.8 424.5,1043.1 429.5,1038.7 434.5,1033.9 439.5,1037.3 444.5,1041.4 449.5,1045.8 454.5,1041.6 458.5,1036.6 463.5,1029.1 468.5,1024.8 473.5,1024.8 478.5,1027.5 483.5,1033.0 488.5,1036.9 492.5,1035.1 497.5,1033.0 502.5,1022.1 507.5,1017.8 512.5,1022.2 517.5,1025.8 522.5,1032.4 526.5,1036.6 531.5,1043.1 536.5,1040.5 541.5,1036.8 546.5,1034.0 551.5,1038.4 556.5,1043.7 560.5,1050.5 565.5,1054.6 570.5,1050.7 575.5,1047.3 580.5,1041.8 585.5,1035.2 590.5,1034.7 595.5,1036.8 599.5,1047.4 604.5,1051.7 609.5,1047.0 614.5,1042.0 619.5,1035.1 624.5,1031.1 629.5,1032.8 633.5,1035.5 638.5,1039.4 643.5,1042.1 648.5,1037.4 653.5,1031.8 658.5,1019.6 663.5,1014.8 667.5,1019.5 672.5,1022.7 677.5,1027.3 682.5,1033.6 687.5,1031.8 692.5,1028.7 697.5,1022.3 701.5,1019.4 706.5,1024.4 711.5,1029.1 716.5,1036.1 721.5,1040.2 726.5,1036.2 731.5,1032.8 735.5,1030.0 740.5,1027.9 745.5,1032.4 750.5,1037.9 755.5,1050.7 760.5,1055.4 765.5,1053.5 769.5,1050.0 774.5,1041.7 779.5,1037.2 784.5,1039.2 789.5,1041.0 794.5,1047.1 799.5,1049.5 803.5,1043.0 808.5,1035.2 813.5,1026.2 818.5,1021.6 823.5,1025.4 828.5,1028.4 833.5,1031.0 838.5,1032.9 842.5,1026.3 847.5,1021.8 852.5,1015.7 857.5,1012.8 862.5,1016.0 867.5,1019.3 872.5,1028.3 876.5,1032.9 881.5,1033.3 886.5,1031.4 891.5,1027.0 896.5,1025.2 901.5,1032.1 906.5,1039.9 910.5,1048.5 915.5,1053.0 920.5,1051.2 925.5,1049.1 930.5,1046.3 935.5,1044.9 940.5,1051.9 944.5,1056.4 949.5,1062.1 954.5,1065.3 959.5,1058.9 964.5,1055.6 969.5,1049.1 974.5,1046.0 978.5,1048.7 983.5,1051.8 988.5,1056.2 993.5,1058.2 998.5,1049.1 1003.5,1043.2 1008.5,1036.8 1012.5,1032.7 1017.5,1032.4 1022.5,1034.1 1027.5,1036.1 1032.5,1037.0 1037.5,1031.5 1042.5,1028.4 1046.5,1022.7 1051.5,1020.1 1056.5,1026.3 1061.5,1029.8 1066.5,1035.4 1071.5,1038.4 1076.5,1033.1 1081.5,1027.6 1085.5,1022.0 1090.5,1019.6 1095.5,1028.5 1100.5,1033.7 1105.5,1039.6 1110.5,1043.4 1115.5,1042.4 1119.5,1037.7 1124.5,1035.6 1129.5,1036.2 1134.5,1042.6 1139.5,1045.7 1144.5,1051.1 1149.5,1053.6 1153.5,1050.7 1158.5,1049.7"/>
<g shape-rendering="crispEdges">
<rect x="6" y="84" width="1" height="18" fill="rgba(50,140,132,0.5)"/>
<rect x="5" y="93" width="3" height="7" fill="#53b987"/>
<rect x="11" y="86" width="1" height="8" fill="rgba(50,140,132,0.5)"/>
<rect x="10" y="89" width="3" height="5" fill="#53b987"/>
<rect x="16" y="80" width="1" height="17" fill="rgba(50,140,132,0.5)"/>
<rect x="15" y="80" width="3" height="10" fill="#53b987"/>
<rect x="21" y="78" width="1" height="13" fill="rgba(220,40,90,0.5)"/>
<rect x="20" y="80" width="3" height="5" fill="#eb4d5c"/>
<rect x="26" y="79" width="1" height="36" fill="rgba(220,40,90,0.5)"/>
<rect x="25" y="84" width="3" height="20" fill="#eb4d5c"/>
<rect x="31" y="66" width="1" height="57" fill="rgba(50,140,132,0.5)"/>
<rect x="30" y="77" width="3" height="27" fill="#53b987"/>
<rect x="36" y="61" width="1" height="24" fill="rgba(220,40,90,0.5)"/>
<rect x="35" y="77" width="3" height="8" fill="#eb4d5c"/>
<rect x="40" y="65" width="1" height="25" fill="rgba(50,140,132,0.5)"/>
<rect x="39" y="77" width="3" height="8" fill="#53b987"/>
<rect x="45" y="72" width="1" height="17" fill="rgba(220,40,90,0.5)"/>
<rect x="44" y="77" width="3" height="12" fill="#eb4d5c"/>
<rect x="50" y="76" width="1" height="13" fill="rgba(50,140,132,0.5)"/>
<rect x="49" y="82" width="3" height="7" fill="#53b987"/>
<rect x="55" y="82" width="1" height="15" fill="rgba(220,40,90,0.5)"/>
<rect x="54" y="82" width="3" height="2" fill="#eb4d5c"/>
<rect x="60" y="74" width="1" height="13" fill="rgba(220,40,90,0.5)"/>
<rect x="59" y="83" width="3" height="4" fill="#eb4d5c"/>
<rect x="65" y="57" width="1" height="45" fill="rgba(220,40,90,0.5)"/>
<rect x="64" y="86" width="3" height="11" fill="#eb4d5c"/>
<rect x="70" y="79" width="1" height="30" fill="rgba(50,140,132,0.5)"/>
<rect x="69" y="79" width="3" height="18" fill="#53b987"/>
<rect x="74" y="74" width="1" height="25" fill="rgba(220,40,90,0.5)"/>
<rect x="73" y="79" width="3" height="20" fill="#eb4d5c"/>
<rect x="79" y="96" width="1" height="40" fill="rgba(220,40,90,0.5)"/>
<rect x="78" y="98" width="3" height="21" fill="#eb4d5c"/>
<rect x="84" y="111" width="1" height="18" fill="rgba(220,40,90,0.5)"/>
<rect x="83" y="118" width="3" height="3" fill="#eb4d5c"/>
<rect x="89" y="116" width="1" height="6" fill="rgba(220,40,90,0.5)"/>
<rect x="88" y="120" width="3" height="2" fill="#eb4d5c"/>
<rect x="94" y="115" width="1" height="14" fill="rgba(220,40,90,0.5)"/>
<rect x="93" y="121" width="3" height="8" fill="#eb4d5c"/>
<rect x="99" y="119" width="1" height="10" fill="rgba(50,140,132,0.5)"/>
<rect x="98" y="123" width="3" height="6" fill="#53b987"/>
<rect x="104" y="111" width="1" height="46" fill="rgba(220,40,90,0.5)"/>
<rect x="103" y="123" width="3" height="32" fill="#eb4d5c"/>
<rect x="109" y="153" width="1" height="25" fill="rgba(220,40,90,0.5)"/>
<rect x="108" y="154" width="3" height="12" fill="#eb4d5c"/>
<rect x="113" y="158" width="1" height="69" fill="rgba(220,40,90,0.5)"/>
<rect x="112" y="165" width="3" height="30" fill="#eb4d5c"/>
<rect x="118" y="170" width="1" height="33" fill="rgba(50,140,132,0.5)"/>
<rect x="117" y="185" width="3" height="10" fill="#53b987"/>
<rect x="123" y="178" width="1" height="15" fill="rgba(220,40,90,0.5)"/>
<rect x="122" y="185" width="3" height="2" fill="#eb4d5c"/>
<rect x="128" y="183" width="1" height="18" fill="rgba(50,140,132,0.5)"/>
<rect x="127" y="199" width="3" height="2" fill="#53b987"/>
<rect x="133" y="193" width="1" height="16" fill="rgba(50,140,132,0.5)"/>
<rect x="132" y="198" width="3" height="2" fill="#53b987"/>
<rect x="138" y="198" width="1" height="11" fill="rgba(220,40,90,0.5)"/>
<rect x="137" y="198" width="3" height="6" fill="#eb4d5c"/>
<rect x="143" y="182" width="1" height="58" fill="rgba(220,40,90,0.5)"/>
<rect x="142" y="203" width="3" height="37" fill="#eb4d5c"/>
<rect x="147" y="236" width="1" height="18" fill="rgba(220,40,90,0.5)"/>
<rect x="146" y="239" width="3" height="4" fill="#eb4d5c"/>
<rect x="152" y="231" width="1" height="35" fill="rgba(220,40,90,0.5)"/>
<rect x="151" y="242" width="3" height="18" fill="#eb4d5c"/>
<rect x="157" y="252" width="1" height="28" fill="rgba(220,40,90,0.5)"/>
<rect x="156" y="259" width="3" height="21" fill="#eb4d5c"/>
<rect x="162" y="264" width="1" height="21" fill="rgba(50,140,132,0.5)"/>
<rect x="161" y="273" width="3" height="7" fill="#53b987"/>
<rect x="167" y="269" width="1" height="7" fill="rgba(50,140,132,0.5)"/>
<rect x="166" y="272" width="3" height="2" fill="#53b987"/>
<rect x="172" y="269" width="1" height="31" fill="rgba(220,40,90,0.5)"/>
<rect x="171" y="272" width="3" height="2" fill="#eb4d5c"/>
<rect x="177" y="260" width="1" height="14" fill="rgba(50,140,132,0.5)"/>
<rect x="176" y="264" width="3" height="10" fill="#53b987"/>
<rect x="181" y="256" width="1" height="47" fill="rgba(220,40,90,0.5)"/>
<rect x="180" y="264" width="3" height="16" fill="#eb4d5c"/>
<rect x="186" y="257" width="1" height="29" fill="rgba(50,140,132,0.5)"/>
<rect x="185" y="259" width="3" height="21" fill="#53b987"/>
<rect x="191" y="243" width="1" height="44" fill="rgba(220,40,90,0.5)"/>
<rect x="190" y="259" width="3" height="7" fill="#eb4d5c"/>
<rect x="196" y="233" width="1" height="39" fill="rgba(50,140,132,0.5)"/>
<rect x="195" y="235" width="3" height="31" fill="#53b987"/>
<rect x="201" y="233" width="1" height="15" fill="rgba(220,40,90,0.5)"/>
<rect x="200" y="235" width="3" height="13" fill="#eb4d5c"/>
<rect x="206" y="239" width="1" height="9" fill="rgba(50,140,132,0.5)"/>
<rect x="205" y="240" width="3" height="8" fill="#53b987"/>
<rect x="211" y="240" width="1" height="19" fill="rgba(220,40,90,0.5)"/>
<rect x="210" y="240" width="3" height="15" fill="#eb4d5c"/>
<rect x="215" y="248" width="1" height="23" fill="rgba(220,40,90,0.5)"/>
<rect x="214" y="254" width="3" height="14" fill="#eb4d5c"/>
<rect x="220" y="262" width="1" height="35" fill="rgba(220,40,90,0.5)"/>
<rect x="219" y="267" width="3" height="13" fill="#eb4d5c"/>
<rect x="225" y="265" width="1" height="45" fill="rgba(220,40,90,0.5)"/>
<rect x="224" y="279" width="3" height="30" fill="#eb4d5c"/>
<rect x="230" y="283" width="1" height="36" fill="rgba(220,40,90,0.5)"/>
<rect x="229" y="308" width="3" height="7" fill="#eb4d5c"/>
<rect x="235" y="294" width="1" height="22" fill="rgba(50,140,132,0.5)"/>
<rect x="234" y="309" width="3" height="6" fill="#53b987"/>
<rect x="240" y="304" width="1" height="24" fill="rgba(220,40,90,0.5)"/>
<rect x="239" y="309" width="3" height="19" fill="#eb4d5c"/>
<rect x="245" y="315" width="1" height="13" fill="rgba(50,140,132,0.5)"/>
<rect x="244" y="316" width="3" height="12" fill="#53b987"/>
<rect x="249" y="308" width="1" height="16" fill="rgba(50,140,132,0.5)"/>
<rect x="248" y="314" width="3" height="3" fill="#53b987"/>
<rect x="254" y="303" width="1" height="12" fill="rgba(50,140,132,0.5)"/>
<rect x="253" y="307" width="3" height="8" fill="#53b987"/>
<rect x="259" y="296" width="1" height="36" fill="rgba(220,40,90,0.5)"/>
<rect x="258" y="307" width="3" height="9" fill="#eb4d5c"/>
<rect x="264" y="296" width="1" height="39" fill="rgba(220,40,90,0.5)"/>
<rect x="263" y="315" width="3" height="17" fill="#eb4d5c"/>
<rect x="269" y="271" width="1" height="116" fill="rgba(220,40,90,0.5)"/>
<rect x="268" y="331" width="3" height="48" fill="#eb4d5c"/>
<rect x="274" y="360" width="1" height="37" fill="rgba(220,40,90,0.5)"/>
<rect x="273" y="378" width="3" height="2" fill="#eb4d5c"/>
<rect x="279" y="378" width="1" height="21" fill="rgba(220,40,90,0.5)"/>
<rect x="278" y="379" width="3" height="13" fill="#eb4d5c"/>
<rect x="283" y="384" width="1" height="8" fill="rgba(50,140,132,0.5)"/>
<rect x="282" y="386" width="3" height="6" fill="#53b987"/>
<rect x="288" y="380" width="1" height="19" fill="rgba(50,140,132,0.5)"/>
<rect x="287" y="382" width="3" height="5" fill="#53b987"/>
<rect x="293" y="376" width="1" height="13" fill="rgba(220,40,90,0.5)"/>
<rect x="292" y="382" width="3" height="7" fill="#eb4d5c"/>
<rect x="298" y="383" width="1" height="52" fill="rgba(220,40,90,0.5)"/>
<rect x="297" y="388" width="3" height="40" fill="#eb4d5c"/>
<rect x="303" y="400" width="1" height="34" fill="rgba(220,40,90,0.5)"/>
<rect x="302" y="427" width="3" height="7" fill="#eb4d5c"/>
<rect x="308" y="375" width="1" height="70" fill="rgba(50,140,132,0.5)"/>
<rect x="307" y="394" width="3" height="40" fill="#53b987"/>
<rect x="313" y="378" width="1" height="21" fill="rgba(50,140,132,0.5)"/>
<rect x="312" y="389" width="3" height="6" fill="#53b987"/>
<rect x="317" y="358" width="1" height="32" fill="rgba(50,140,132,0.5)"/>
<rect x="316" y="365" width="3" height="25" fill="#53b987"/>
<rect x="322" y="361" width="1" height="13" fill="rgba(50,140,132,0.5)"/>
<rect x="321" y="369" width="3" height="1" fill="#53b987"/>
<rect x="327" y="357" width="1" height="13" fill="rgba(50,140,132,0.5)"/>
<rect x="326" y="364" width="3" height="6" fill="#53b987"/>
<rect x="332" y="352" width="1" height="15" fill="rgba(50,140,132,0.5)"/>
<rect x="331" y="354" width="3" height="11" fill="#53b987"/>
<rect x="337" y="351" width="1" height="42" fill="rgba(220,40,90,0.5)"/>
<rect x="336" y="354" width="3" height="37" fill="#eb4d5c"/>
<rect x="342" y="371" width="1" height="54" fill="rgba(220,40,90,0.5)"/>
<rect x="341" y="390" width="3" height="31" fill="#eb4d5c"/>
<rect x="347" y="406" width="1" height="26" fill="rgba(50,140,132,0.5)"/>
<rect x="346" y="416" width="3" height="5" fill="#53b987"/>
<rect x="352" y="388" width="1" height="47" fill="rgba(50,140,132,0.5)"/>
<rect x="351" y="411" width="3" height="6" fill="#53b987"/>
<rect x="356" y="400" width="1" height="26" fill="rgba(220,40,90,0.5)"/>
<rect x="355" y="411" width="3" height="10" fill="#eb4d5c"/>
<rect x="361" y="413" width="1" height="19" fill="rgba(50,140,132,0.5)"/>
<rect x="360" y="416" width="3" height="5" fill="#53b987"/>
<rect x="366" y="414" width="1" height="12" fill="rgba(220,40,90,0.5)"/>
<rect x="365" y="416" width="3" height="7" fill="#eb4d5c"/>
<rect x="371" y="419" width="1" height="14" fill="rgba(220,40,90,0.5)"/>
<rect x="370" y="422" width="3" height="9" fill="#eb4d5c"/>
<rect x="376" y="427" width="1" height="43" fill="rgba(220,40,90,0.5)"/>
<rect x="375" y="430" width="3" height="40" fill="#eb4d5c"/>
<rect x="381" y="461" width="1" height="22" fill="rgba(220,40,90,0.5)"/>
<rect x="380" y="469" width="3" height="11" fill="#eb4d5c"/>
<rect x="386" y="465" width="1" height="64" fill="rgba(220,40,90,0.5)"/>
<rect x="385" y="479" width="3" height="39" fill="#eb4d5c"/>
<rect x="390" y="485" width="1" height="39" fill="rgba(50,140,132,0.5)"/>
<rect x="389" y="509" width="3" height="9" fill="#53b987"/>
<rect x="395" y="501" width="1" height="20" fill="rgba(220,40,90,0.5)"/>
<rect x="394" y="509" width="3" height="9" fill="#eb4d5c"/>
<rect x="400" y="513" width="1" height="8" fill="rgba(220,40,90,0.5)"/>
<rect x="399" y="517" width="3" height="1" fill="#eb4d5c"/>
<rect x="405" y="495" width="1" height="26" fill="rgba(50,140,132,0.5)"/>
<rect x="404" y="500" width="3" height="18" fill="#53b987"/>
<rect x="410" y="495" width="1" height="21" fill="rgba(220,40,90,0.5)"/>
<rect x="409" y="500" width="3" height="12" fill="#eb4d5c"/>
<rect x="415" y="472" width="1" height="46" fill="rgba(50,140,132,0.5)"/>
<rect x="414" y="508" width="3" height="4" fill="#53b987"/>
<rect x="420" y="496" width="1" height="19" fill="rgba(50,140,132,0.5)"/>
<rect x="419" y="505" width="3" height="4" fill="#53b987"/>
<rect x="424" y="493" width="1" height="67" fill="rgba(220,40,90,0.5)"/>
<rect x="423" y="505" width="3" height="52" fill="#eb4d5c"/>
<rect x="429" y="535" width="1" height="23" fill="rgba(50,140,132,0.5)"/>
<rect x="428" y="554" width="3" height="3" fill="#53b987"/>
<rect x="434" y="478" width="1" height="99" fill="rgba(220,40,90,0.5)"/>
<rect x="433" y="554" width="3" height="10" fill="#eb4d5c"/>
<rect x="439" y="553" width="1" height="13" fill="rgba(220,40,90,0.5)"/>
<rect x="438" y="563" width="3" height="1" fill="#eb4d5c"/>
<rect x="444" y="526" width="1" height="39" fill="rgba(50,140,132,0.5)"/>
<rect x="443" y="532" width="3" height="32" fill="#53b987"/>
<rect x="449" y="519" width="1" height="14" fill="rgba(50,140,132,0.5)"/>
<rect x="448" y="526" width="3" height="7" fill="#53b987"/>
<rect x="454" y="497" width="1" height="48" fill="rgba(50,140,132,0.5)"/>
<rect x="453" y="524" width="3" height="3" fill="#53b987"/>
<rect x="458" y="504" width="1" height="43" fill="rgba(50,140,132,0.5)"/>
<rect x="457" y="517" width="3" height="8" fill="#53b987"/>
<rect x="463" y="506" width="1" height="58" fill="rgba(220,40,90,0.5)"/>
<rect x="462" y="517" width="3" height="47" fill="#eb4d5c"/>
<rect x="468" y="518" width="1" height="46" fill="rgba(50,140,132,0.5)"/>
<rect x="467" y="526" width="3" height="38" fill="#53b987"/>
<rect x="473" y="502" width="1" height="25" fill="rgba(50,140,132,0.5)"/>
<rect x="472" y="521" width="3" height="6" fill="#53b987"/>
<rect x="478" y="516" width="1" height="9" fill="rgba(50,140,132,0.5)"/>
<rect x="477" y="520" width="3" height="2" fill="#53b987"/>
<rect x="483" y="513" width="1" height="17" fill="rgba(50,140,132,0.5)"/>
<rect x="482" y="520" width="3" height="1" fill="#53b987"/>
<rect x="488" y="512" width="1" height="15" fill="rgba(220,40,90,0.5)"/>
<rect x="487" y="520" width="3" height="7" fill="#eb4d5c"/>
<rect x="492" y="526" width="1" height="28" fill="rgba(220,40,90,0.5)"/>
<rect x="491" y="526" width="3" height="24" fill="#eb4d5c"/>
<rect x="497" y="535" width="1" height="22" fill="rgba(50,140,132,0.5)"/>
<rect x="496" y="544" width="3" height="6" fill="#53b987"/>
<rect x="502" y="514" width="1" height="94" fill="rgba(220,40,90,0.5)"/>
<rect x="501" y="544" width="3" height="45" fill="#eb4d5c"/>
<rect x="507" y="546" width="1" height="49" fill="rgba(50,140,132,0.5)"/>
<rect x="506" y="553" width="3" height="36" fill="#53b987"/>
<rect x="512" y="545" width="1" height="15" fill="rgba(50,140,132,0.5)"/>
<rect x="511" y="553" width="3" height="1" fill="#53b987"/>
<rect x="517" y="548" width="1" height="11" fill="rgba(220,40,90,0.5)"/>
<rect x="516" y="549" width="3" height="10" fill="#eb4d5c"/>
<rect x="522" y="533" width="1" height="26" fill="rgba(50,140,132,0.5)"/>
<rect x="521" y="538" width="3" height="21" fill="#53b987"/>
<rect x="526" y="532" width="1" height="41" fill="rgba(220,40,90,0.5)"/>
<rect x="525" y="538" width="3" height="24" fill="#eb4d5c"/>
<rect x="531" y="561" width="1" height="34" fill="rgba(220,40,90,0.5)"/>
<rect x="530" y="561" width="3" height="25" fill="#eb4d5c"/>
<rect x="536" y="583" width="1" height="38" fill="rgba(220,40,90,0.5)"/>
<rect x="535" y="585" width="3" height="36" fill="#eb4d5c"/>
<rect x="541" y="588" width="1" height="34" fill="rgba(50,140,132,0.5)"/>
<rect x="540" y="605" width="3" height="16" fill="#53b987"/>
<rect x="546" y="577" width="1" height="29" fill="rgba(50,140,132,0.5)"/>
<rect x="545" y="590" width="3" height="16" fill="#53b987"/>
<rect x="551" y="588" width="1" height="10" fill="rgba(220,40,90,0.5)"/>
<rect x="550" y="590" width="3" height="6" fill="#eb4d5c"/>
<rect x="556" y="580" width="1" height="18" fill="rgba(50,140,132,0.5)"/>
<rect x="555" y="582" width="3" height="14" fill="#53b987"/>
<rect x="560" y="575" width="1" height="31" fill="rgba(220,40,90,0.5)"/>
<rect x="559" y="582" width="3" height="10" fill="#eb4d5c"/>
<rect x="565" y="592" width="1" height="18" fill="rgba(220,40,90,0.5)"/>
<rect x="564" y="592" width="3" height="4" fill="#eb4d5c"/>
<rect x="570" y="583" width="1" height="56" fill="rgba(220,40,90,0.5)"/>
<rect x="569" y="595" width="3" height="39" fill="#eb4d5c"/>
<rect x="575" y="624" width="1" height="39" fill="rgba(220,40,90,0.5)"/>
<rect x="574" y="633" width="3" height="19" fill="#eb4d5c"/>
<rect x="580" y="648" width="1" height="42" fill="rgba(220,40,90,0.5)"/>
<rect x="579" y="651" width="3" height="23" fill="#eb4d5c"/>
<rect x="585" y="635" width="1" height="47" fill="rgba(50,140,132,0.5)"/>
<rect x="584" y="659" width="3" height="15" fill="#53b987"/>
<rect x="590" y="638" width="1" height="32" fill="rgba(220,40,90,0.5)"/>
<rect x="589" y="659" width="3" height="2" fill="#eb4d5c"/>
<rect x="595" y="656" width="1" height="12" fill="rgba(50,140,132,0.5)"/>
<rect x="594" y="657" width="3" height="4" fill="#53b987"/>
<rect x="599" y="654" width="1" height="30" fill="rgba(220,40,90,0.5)"/>
<rect x="598" y="657" width="3" height="16" fill="#eb4d5c"/>
<rect x="604" y="666" width="1" height="16" fill="rgba(220,40,90,0.5)"/>
<rect x="603" y="672" width="3" height="4" fill="#eb4d5c"/>
<rect x="609" y="666" width="1" height="41" fill="rgba(50,140,132,0.5)"/>
<rect x="608" y="669" width="3" height="7" fill="#53b987"/>
<rect x="614" y="632" width="1" height="44" fill="rgba(50,140,132,0.5)"/>
<rect x="613" y="643" width="3" height="27" fill="#53b987"/>
<rect x="619" y="623" width="1" height="48" fill="rgba(220,40,90,0.5)"/>
<rect x="618" y="643" width="3" height="28" fill="#eb4d5c"/>
<rect x="624" y="658" width="1" height="28" fill="rgba(50,140,132,0.5)"/>
<rect x="623" y="663" width="3" height="8" fill="#53b987"/>
<rect x="629" y="656" width="1" height="23" fill="rgba(220,40,90,0.5)"/>
<rect x="628" y="663" width="3" height="13" fill="#eb4d5c"/>
<rect x="633" y="670" width="1" height="13" fill="rgba(220,40,90,0.5)"/>
<rect x="632" y="675" width="3" height="6" fill="#eb4d5c"/>
<rect x="638" y="653" width="1" height="30" fill="rgba(50,140,132,0.5)"/>
<rect x="637" y="664" width="3" height="17" fill="#53b987"/>
<rect x="643" y="648" width="1" height="21" fill="rgba(220,40,90,0.5)"/>
<rect x="642" y="664" width="3" height="2" fill="#eb4d5c"/>
<rect x="648" y="643" width="1" height="31" fill="rgba(50,140,132,0.5)"/>
<rect x="647" y="649" width="3" height="17" fill="#53b987"/>
<rect x="653" y="630" width="1" height="22" fill="rgba(50,140,132,0.5)"/>
<rect x="652" y="639" width="3" height="11" fill="#53b987"/>
<rect x="658" y="567" width="1" height="85" fill="rgba(220,40,90,0.5)"/>
<rect x="657" y="639" width="3" height="5" fill="#eb4d5c"/>
<rect x="663" y="582" width="1" height="62" fill="rgba(50,140,132,0.5)"/>
<rect x="662" y="588" width="3" height="56" fill="#53b987"/>
<rect x="667" y="584" width="1" height="19" fill="rgba(220,40,90,0.5)"/>
<rect x="666" y="588" width="3" height="15" fill="#eb4d5c"/>
<rect x="672" y="597" width="1" height="8" fill="rgba(220,40,90,0.5)"/>
<rect x="671" y="602" width="3" height="3" fill="#eb4d5c"/>
<rect x="677" y="592" width="1" height="15" fill="rgba(50,140,132,0.5)"/>
<rect x="676" y="603" width="3" height="2" fill="#53b987"/>
<rect x="682" y="597" width="1" height="15" fill="rgba(220,40,90,0.5)"/>
<rect x="681" y="603" width="3" height="6" fill="#eb4d5c"/>
<rect x="687" y="591" width="1" height="39" fill="rgba(50,140,132,0.5)"/>
<rect x="686" y="596" width="3" height="13" fill="#53b987"/>
<rect x="692" y="564" width="1" height="41" fill="rgba(50,140,132,0.5)"/>
<rect x="691" y="581" width="3" height="15" fill="#53b987"/>
<rect x="697" y="543" width="1" height="41" fill="rgba(50,140,132,0.5)"/>
<rect x="696" y="571" width="3" height="11" fill="#53b987"/>
<rect x="701" y="553" width="1" height="29" fill="rgba(50,140,132,0.5)"/>
<rect x="700" y="560" width="3" height="12" fill="#53b987"/>
<rect x="706" y="560" width="1" height="19" fill="rgba(220,40,90,0.5)"/>
<rect x="705" y="560" width="3" height="18" fill="#eb4d5c"/>
<rect x="711" y="557" width="1" height="22" fill="rgba(50,140,132,0.5)"/>
<rect x="710" y="561" width="3" height="18" fill="#53b987"/>
<rect x="716" y="545" width="1" height="17" fill="rgba(50,140,132,0.5)"/>
<rect x="715" y="547" width="3" height="15" fill="#53b987"/>
<rect x="721" y="544" width="1" height="16" fill="rgba(50,140,132,0.5)"/>
<rect x="720" y="544" width="3" height="4" fill="#53b987"/>
<rect x="726" y="523" width="1" height="39" fill="rgba(50,140,132,0.5)"/>
<rect x="725" y="525" width="3" height="19" fill="#53b987"/>
<rect x="731" y="518" width="1" height="20" fill="rgba(220,40,90,0.5)"/>
<rect x="730" y="525" width="3" height="1" fill="#eb4d5c"/>
<rect x="735" y="512" width="1" height="38" fill="rgba(220,40,90,0.5)"/>
<rect x="734" y="525" width="3" height="19" fill="#eb4d5c"/>
<rect x="740" y="532" width="1" height="37" fill="rgba(220,40,90,0.5)"/>
<rect x="739" y="543" width="3" height="26" fill="#eb4d5c"/>
<rect x="745" y="566" width="1" height="25" fill="rgba(220,40,90,0.5)"/>
<rect x="744" y="568" width="3" height="23" fill="#eb4d5c"/>
<rect x="750" y="584" width="1" height="10" fill="rgba(50,140,132,0.5)"/>
<rect x="749" y="585" width="3" height="6" fill="#53b987"/>
<rect x="755" y="577" width="1" height="11" fill="rgba(50,140,132,0.5)"/>
<rect x="754" y="581" width="3" height="5" fill="#53b987"/>
<rect x="760" y="581" width="1" height="24" fill="rgba(220,40,90,0.5)"/>
<rect x="759" y="581" width="3" height="17" fill="#eb4d5c"/>
<rect x="765" y="578" width="1" height="30" fill="rgba(220,40,90,0.5)"/>
<rect x="764" y="597" width="3" height="3" fill="#eb4d5c"/>
<rect x="769" y="587" width="1" height="58" fill="rgba(220,40,90,0.5)"/>
<rect x="768" y="599" width="3" height="46" fill="#eb4d5c"/>
<rect x="774" y="631" width="1" height="79" fill="rgba(220,40,90,0.5)"/>
<rect x="773" y="644" width="3" height="21" fill="#eb4d5c"/>
<rect x="779" y="647" width="1" height="30" fill="rgba(220,40,90,0.5)"/>
<rect x="778" y="664" width="3" height="13" fill="#eb4d5c"/>
<rect x="784" y="664" width="1" height="27" fill="rgba(220,40,90,0.5)"/>
<rect x="783" y="676" width="3" height="15" fill="#eb4d5c"/>
<rect x="789" y="684" width="1" height="29" fill="rgba(220,40,90,0.5)"/>
<rect x="788" y="690" width="3" height="20" fill="#eb4d5c"/>
<rect x="794" y="693" width="1" height="21" fill="rgba(50,140,132,0.5)"/>
<rect x="793" y="702" width="3" height="8" fill="#53b987"/>
<rect x="799" y="685" width="1" height="20" fill="rgba(50,140,132,0.5)"/>
<rect x="798" y="685" width="3" height="18" fill="#53b987"/>
<rect x="803" y="671" width="1" height="34" fill="rgba(220,40,90,0.5)"/>
<rect x="802" y="685" width="3" height="7" fill="#eb4d5c"/>
<rect x="808" y="691" width="1" height="78" fill="rgba(220,40,90,0.5)"/>
<rect x="807" y="691" width="3" height="57" fill="#eb4d5c"/>
<rect x="813" y="710" width="1" height="63" fill="rgba(220,40,90,0.5)"/>
<rect x="812" y="747" width="3" height="2" fill="#eb4d5c"/>
<rect x="818" y="713" width="1" height="44" fill="rgba(50,140,132,0.5)"/>
<rect x="817" y="713" width="3" height="36" fill="#53b987"/>
<rect x="823" y="710" width="1" height="23" fill="rgba(220,40,90,0.5)"/>
<rect x="822" y="713" width="3" height="13" fill="#eb4d5c"/>
<rect x="828" y="710" width="1" height="18" fill="rgba(50,140,132,0.5)"/>
<rect x="827" y="716" width="3" height="10" fill="#53b987"/>
<rect x="833" y="690" width="1" height="35" fill="rgba(50,140,132,0.5)"/>
<rect x="832" y="698" width="3" height="19" fill="#53b987"/>
<rect x="838" y="692" width="1" height="24" fill="rgba(50,140,132,0.5)"/>
<rect x="837" y="695" width="3" height="3" fill="#53b987"/>
<rect x="842" y="695" width="1" height="46" fill="rgba(220,40,90,0.5)"/>
<rect x="841" y="695" width="3" height="22" fill="#eb4d5c"/>
<rect x="847" y="704" width="1" height="55" fill="rgba(220,40,90,0.5)"/>
<rect x="846" y="716" width="3" height="28" fill="#eb4d5c"/>
<rect x="852" y="719" width="1" height="31" fill="rgba(50,140,132,0.5)"/>
<rect x="851" y="742" width="3" height="2" fill="#53b987"/>
<rect x="857" y="723" width="1" height="26" fill="rgba(50,140,132,0.5)"/>
<rect x="856" y="737" width="3" height="7" fill="#53b987"/>
<rect x="862" y="729" width="1" height="12" fill="rgba(220,40,90,0.5)"/>
<rect x="861" y="737" width="3" height="4" fill="#eb4d5c"/>
<rect x="867" y="734" width="1" height="10" fill="rgba(220,40,90,0.5)"/>
<rect x="866" y="740" width="3" height="4" fill="#eb4d5c"/>
<rect x="872" y="723" width="1" height="21" fill="rgba(50,140,132,0.5)"/>
<rect x="871" y="730" width="3" height="14" fill="#53b987"/>
<rect x="876" y="717" width="1" height="17" fill="rgba(50,140,132,0.5)"/>
<rect x="875" y="720" width="3" height="11" fill="#53b987"/>
<rect x="881" y="707" width="1" height="19" fill="rgba(220,40,90,0.5)"/>
<rect x="880" y="720" width="3" height="6" fill="#eb4d5c"/>
<rect x="886" y="721" width="1" height="42" fill="rgba(220,40,90,0.5)"/>
<rect x="885" y="725" width="3" height="26" fill="#eb4d5c"/>
<rect x="891" y="750" width="1" height="39" fill="rgba(220,40,90,0.5)"/>
<rect x="890" y="750" width="3" height="17" fill="#eb4d5c"/>
<rect x="896" y="745" width="1" height="29" fill="rgba(50,140,132,0.5)"/>
<rect x="895" y="761" width="3" height="6" fill="#53b987"/>
<rect x="901" y="756" width="1" height="16" fill="rgba(220,40,90,0.5)"/>
<rect x="900" y="761" width="3" height="8" fill="#eb4d5c"/>
<rect x="906" y="761" width="1" height="16" fill="rgba(220,40,90,0.5)"/>
<rect x="905" y="768" width="3" height="4" fill="#eb4d5c"/>
<rect x="910" y="768" width="1" height="27" fill="rgba(220,40,90,0.5)"/>
<rect x="909" y="771" width="3" height="22" fill="#eb4d5c"/>
<rect x="915" y="783" width="1" height="11" fill="rgba(50,140,132,0.5)"/>
<rect x="914" y="788" width="3" height="5" fill="#53b987"/>
<rect x="920" y="788" width="1" height="38" fill="rgba(220,40,90,0.5)"/>
<rect x="919" y="788" width="3" height="11" fill="#eb4d5c"/>
<rect x="925" y="773" width="1" height="34" fill="rgba(50,140,132,0.5)"/>
<rect x="924" y="776" width="3" height="23" fill="#53b987"/>
<rect x="930" y="755" width="1" height="41" fill="rgba(220,40,90,0.5)"/>
<rect x="929" y="776" width="3" height="11" fill="#eb4d5c"/>
<rect x="935" y="757" width="1" height="31" fill="rgba(50,140,132,0.5)"/>
<rect x="934" y="766" width="3" height="21" fill="#53b987"/>
<rect x="940" y="737" width="1" height="33" fill="rgba(50,140,132,0.5)"/>
<rect x="939" y="742" width="3" height="25" fill="#53b987"/>
<rect x="944" y="735" width="1" height="13" fill="rgba(220,40,90,0.5)"/>
<rect x="943" y="742" width="3" height="2" fill="#eb4d5c"/>
<rect x="949" y="736" width="1" height="20" fill="rgba(220,40,90,0.5)"/>
<rect x="948" y="743" width="3" height="11" fill="#eb4d5c"/>
<rect x="954" y="746" width="1" height="16" fill="rgba(50,140,132,0.5)"/>
<rect x="953" y="751" width="3" height="3" fill="#53b987"/>
<rect x="959" y="699" width="1" height="81" fill="rgba(50,140,132,0.5)"/>
<rect x="958" y="723" width="3" height="29" fill="#53b987"/>
<rect x="964" y="702" width="1" height="24" fill="rgba(50,140,132,0.5)"/>
<rect x="963" y="722" width="3" height="1" fill="#53b987"/>
<rect x="969" y="719" width="1" height="47" fill="rgba(220,40,90,0.5)"/>
<rect x="968" y="722" width="3" height="42" fill="#eb4d5c"/>
<rect x="974" y="740" width="1" height="26" fill="rgba(50,140,132,0.5)"/>
<rect x="973" y="758" width="3" height="6" fill="#53b987"/>
<rect x="978" y="749" width="1" height="15" fill="rgba(50,140,132,0.5)"/>
<rect x="977" y="757" width="3" height="2" fill="#53b987"/>
<rect x="983" y="744" width="1" height="14" fill="rgba(50,140,132,0.5)"/>
<rect x="982" y="746" width="3" height="12" fill="#53b987"/>
<rect x="988" y="746" width="1" height="39" fill="rgba(220,40,90,0.5)"/>
<rect x="987" y="746" width="3" height="39" fill="#eb4d5c"/>
<rect x="993" y="768" width="1" height="20" fill="rgba(50,140,132,0.5)"/>
<rect x="992" y="774" width="3" height="11" fill="#53b987"/>
<rect x="998" y="768" width="1" height="78" fill="rgba(220,40,90,0.5)"/>
<rect x="997" y="774" width="3" height="39" fill="#eb4d5c"/>
<rect x="1003" y="791" width="1" height="63" fill="rgba(220,40,90,0.5)"/>
<rect x="1002" y="812" width="3" height="32" fill="#eb4d5c"/>
<rect x="1008" y="823" width="1" height="39" fill="rgba(50,140,132,0.5)"/>
<rect x="1007" y="841" width="3" height="3" fill="#53b987"/>
<rect x="1012" y="833" width="1" height="37" fill="rgba(220,40,90,0.5)"/>
<rect x="1011" y="841" width="3" height="29" fill="#eb4d5c"/>
<rect x="1017" y="833" width="1" height="39" fill="rgba(50,140,132,0.5)"/>
<rect x="1016" y="850" width="3" height="20" fill="#53b987"/>
<rect x="1022" y="829" width="1" height="22" fill="rgba(50,140,132,0.5)"/>
<rect x="1021" y="834" width="3" height="17" fill="#53b987"/>
<rect x="1027" y="831" width="1" height="24" fill="rgba(220,40,90,0.5)"/>
<rect x="1026" y="834" width="3" height="4" fill="#eb4d5c"/>
<rect x="1032" y="829" width="1" height="18" fill="rgba(50,140,132,0.5)"/>
<rect x="1031" y="836" width="3" height="2" fill="#53b987"/>
<rect x="1037" y="792" width="1" height="60" fill="rgba(50,140,132,0.5)"/>
<rect x="1036" y="802" width="3" height="35" fill="#53b987"/>
<rect x="1042" y="794" width="1" height="44" fill="rgba(220,40,90,0.5)"/>
<rect x="1041" y="802" width="3" height="28" fill="#eb4d5c"/>
<rect x="1046" y="788" width="1" height="42" fill="rgba(50,140,132,0.5)"/>
<rect x="1045" y="817" width="3" height="13" fill="#53b987"/>
<rect x="1051" y="795" width="1" height="27" fill="rgba(50,140,132,0.5)"/>
<rect x="1050" y="801" width="3" height="17" fill="#53b987"/>
<rect x="1056" y="801" width="1" height="16" fill="rgba(220,40,90,0.5)"/>
<rect x="1055" y="801" width="3" height="16" fill="#eb4d5c"/>
<rect x="1061" y="818" width="1" height="5" fill="rgba(50,140,132,0.5)"/>
<rect x="1060" y="820" width="3" height="3" fill="#53b987"/>
<rect x="1066" y="815" width="1" height="24" fill="rgba(220,40,90,0.5)"/>
<rect x="1065" y="820" width="3" height="15" fill="#eb4d5c"/>
<rect x="1071" y="829" width="1" height="9" fill="rgba(220,40,90,0.5)"/>
<rect x="1070" y="835" width="3" height="3" fill="#eb4d5c"/>
<rect x="1076" y="814" width="1" height="48" fill="rgba(50,140,132,0.5)"/>
<rect x="1075" y="814" width="3" height="24" fill="#53b987"/>
<rect x="1081" y="807" width="1" height="80" fill="rgba(220,40,90,0.5)"/>
<rect x="1080" y="814" width="3" height="67" fill="#eb4d5c"/>
<rect x="1085" y="860" width="1" height="45" fill="rgba(220,40,90,0.5)"/>
<rect x="1084" y="881" width="3" height="15" fill="#eb4d5c"/>
<rect x="1090" y="872" width="1" height="27" fill="rgba(50,140,132,0.5)"/>
<rect x="1089" y="890" width="3" height="6" fill="#53b987"/>
<rect x="1095" y="880" width="1" height="26" fill="rgba(220,40,90,0.5)"/>
<rect x="1094" y="890" width="3" height="14" fill="#eb4d5c"/>
<rect x="1100" y="853" width="1" height="18" fill="rgba(50,140,132,0.5)"/>
<rect x="1099" y="858" width="3" height="3" fill="#53b987"/>
<rect x="1105" y="832" width="1" height="31" fill="rgba(50,140,132,0.5)"/>
<rect x="1104" y="837" width="3" height="22" fill="#53b987"/>
<rect x="1110" y="813" width="1" height="25" fill="rgba(50,140,132,0.5)"/>
<rect x="1109" y="815" width="3" height="23" fill="#53b987"/>
<rect x="1115" y="813" width="1" height="58" fill="rgba(220,40,90,0.5)"/>
<rect x="1114" y="815" width="3" height="55" fill="#eb4d5c"/>
<rect x="1119" y="869" width="1" height="49" fill="rgba(220,40,90,0.5)"/>
<rect x="1118" y="869" width="3" height="44" fill="#eb4d5c"/>
<rect x="1124" y="905" width="1" height="44" fill="rgba(220,40,90,0.5)"/>
<rect x="1123" y="912" width="3" height="23" fill="#eb4d5c"/>
<rect x="1129" y="920" width="1" height="15" fill="rgba(50,140,132,0.5)"/>
<rect x="1128" y="926" width="3" height="9" fill="#53b987"/>
<rect x="1134" y="925" width="1" height="6" fill="rgba(220,40,90,0.5)"/>
<rect x="1133" y="926" width="3" height="4" fill="#eb4d5c"/>
<rect x="1139" y="925" width="1" height="9" fill="rgba(50,140,132,0.5)"/>
<rect x="1138" y="928" width="3" height="2" fill="#53b987"/>
<rect x="1144" y="920" width="1" height="21" fill="rgba(220,40,90,0.5)"/>
<rect x="1143" y="928" width="3" height="3" fill="#eb4d5c"/>
<rect x="1149" y="918" width="1" height="16" fill="rgba(50,140,132,0.5)"/>
<rect x="1148" y="922" width="3" height="9" fill="#53b987"/>
<rect x="1153" y="913" width="1" height="108" fill="rgba(220,40,90,0.5)"/>
<rect x="1152" y="922" width="3" height="99" fill="#eb4d5c"/>
<rect x="1158" y="1010" width="1" height="44" fill="rgba(220,40,90,0.5)"/>
<rect x="1157" y="1021" width="3" height="27" fill="#eb4d5c"/>
<rect x="1156" y="939" width="1" height="83" fill="rgba(235,77,92,0.35)"/>
</g>
<line x1="4" y1="1047.5" x2="1186" y2="1047.5" stroke="#eb4d5c" stroke-width="1" stroke-dasharray="2 1" shape-rendering="crispEdges"/>
<g shape-rendering="crispEdges">
<rect x="1186" y="2" width="1" height="1110" fill="#555555"/>
<rect x="4" y="1111" width="1183" height="1" fill="#555555"/>
<rect x="1187" y="58" width="3" height="1" fill="#555555"/>
<rect x="1187" y="114" width="3" height="1" fill="#555555"/>
<rect x="1187" y="170" width="3" height="1" fill="#555555"/>
<rect x="1187" y="226" width="3" height="1" fill="#555555"/>
<rect x="1187" y="283" width="3" height="1" fill="#555555"/>
<rect x="1187" y="339" width="3" height="1" fill="#555555"/>
<rect x="1187" y="395" width="3" height="1" fill="#555555"/>
<rect x="1187" y="451" width="3" height="1" fill="#555555"/>
<rect x="1187" y="507" width="3" height="1" fill="#555555"/>
<rect x="1187" y="564" width="3" height="1" fill="#555555"/>
<rect x="1187" y="620" width="3" height="1" fill="#555555"/>
<rect x="1187" y="676" width="3" height="1" fill="#555555"/>
<rect x="1187" y="732" width="3" height="1" fill="#555555"/>
<rect x="1187" y="789" width="3" height="1" fill="#555555"/>
<rect x="1187" y="845" width="3" height="1" fill="#555555"/>
<rect x="1187" y="901" width="3" height="1" fill="#555555"/>
<rect x="1187" y="957" width="3" height="1" fill="#555555"/>
<rect x="1187" y="1013" width="3" height="1" fill="#555555"/>
<rect x="1187" y="1070" width="3" height="1" fill="#555555"/>
<rect x="27" y="1112" width="1" height="3" fill="#555555"/>
<rect x="144" y="1112" width="1" height="3" fill="#555555"/>
<rect x="221" y="1112" width="1" height="3" fill="#555555"/>
<rect x="299" y="1112" width="1" height="3" fill="#555555"/>
<rect x="377" y="1112" width="1" height="3" fill="#555555"/>
<rect x="455" y="1112" width="1" height="3" fill="#555555"/>
<rect x="532" y="1112" width="1" height="3" fill="#555555"/>
<rect x="610" y="1112" width="1" height="3" fill="#555555"/>
<rect x="727" y="1112" width="1" height="3" fill="#555555"/>
<rect x="804" y="1112" width="1" height="3" fill="#555555"/>
<rect x="921" y="1112" width="1" height="3" fill="#555555"/>
<rect x="999" y="1112" width="1" height="3" fill="#555555"/>
<rect x="1116" y="1112" width="1" height="3" fill="#555555"/>
</g>
<text x="1193.4" y="63" font-family="'Liberation Sans', Arial, sans-serif" font-size="11" fill="#434343" letter-spacing="-0.2">1.24000</text>
<text x="1193.4" y="119" font-family="'Liberation Sans', Arial, sans-serif" font-size="11" fill="#434343" letter-spacing="-0.2">1.23500</text>
<text x="1193.4" y="175" font-family="'Liberation Sans', Arial, sans-serif" font-size="11" fill="#434343" letter-spacing="-0.2">1.23000</text>
<text x="1193.4" y="231" font-family="'Liberation Sans', Arial, sans-serif" font-size="11" fill="#434343" letter-spacing="-0.2">1.22500</text>
<text x="1193.4" y="288" font-family="'Liberation Sans', Arial, sans-serif" font-size="11" fill="#434343" letter-spacing="-0.2">1.22000</text>
<text x="1193.4" y="344" font-family="'Liberation Sans', Arial, sans-serif" font-size="11" fill="#434343" letter-spacing="-0.2">1.21500</text>
<text x="1193.4" y="400" font-family="'Liberation Sans', Arial, sans-serif" font-size="11" fill="#434343" letter-spacing="-0.2">1.21000</text>
<text x="1193.4" y="456" font-family="'Liberation Sans', Arial, sans-serif" font-size="11" fill="#434343" letter-spacing="-0.2">1.20500</text>
<text x="1193.4" y="512" font-family="'Liberation Sans', Arial, sans-serif" font-size="11" fill="#434343" letter-spacing="-0.2">1.20000</text>
<text x="1193.4" y="569" font-family="'Liberation Sans', Arial, sans-serif" font-size="11" fill="#434343" letter-spacing="-0.2">1.19500</text>
<text x="1193.4" y="625" font-family="'Liberation Sans', Arial, sans-serif" font-size="11" fill="#434343" letter-spacing="-0.2">1.19000</text>
<text x="1193.4" y="681" font-family="'Liberation Sans', Arial, sans-serif" font-size="11" fill="#434343" letter-spacing="-0.2">1.18500</text>
<text x="1193.4" y="737" font-family="'Liberation Sans', Arial, sans-serif" font-size="11" fill="#434343" letter-spacing="-0.2">1.18000</text>
<text x="1193.4" y="794" font-family="'Liberation Sans', Arial, sans-serif" font-size="11" fill="#434343" letter-spacing="-0.2">1.17500</text>
<text x="1193.4" y="850" font-family="'Liberation Sans', Arial, sans-serif" font-size="11" fill="#434343" letter-spacing="-0.2">1.17000</text>
<text x="1193.4" y="906" font-family="'Liberation Sans', Arial, sans-serif" font-size="11" fill="#434343" letter-spacing="-0.2">1.16500</text>
<text x="1193.4" y="962" font-family="'Liberation Sans', Arial, sans-serif" font-size="11" fill="#434343" letter-spacing="-0.2">1.16000</text>
<text x="1193.4" y="1018" font-family="'Liberation Sans', Arial, sans-serif" font-size="11" fill="#434343" letter-spacing="-0.2">1.15500</text>
<text x="1193.4" y="1075" font-family="'Liberation Sans', Arial, sans-serif" font-size="11" fill="#434343" letter-spacing="-0.2">1.15000</text>
<text x="27.5" y="1126" font-family="'Liberation Sans', Arial, sans-serif" font-size="11" font-weight="normal" fill="#434343" text-anchor="middle">18</text>
<text x="144.5" y="1126" font-family="'Liberation Sans', Arial, sans-serif" font-size="11" font-weight="normal" fill="#434343" text-anchor="middle">23</text>
<text x="221.5" y="1126" font-family="'Liberation Sans', Arial, sans-serif" font-size="11" font-weight="normal" fill="#434343" text-anchor="middle">25</text>
<text x="299.5" y="1126" font-family="'Liberation Sans', Arial, sans-serif" font-size="11" font-weight="normal" fill="#434343" text-anchor="middle">27</text>
<text x="377.5" y="1126" font-family="'Liberation Sans', Arial, sans-serif" font-size="11" font-weight="bold" fill="#434343" text-anchor="middle">May</text>
<text x="455.5" y="1126" font-family="'Liberation Sans', Arial, sans-serif" font-size="11" font-weight="normal" fill="#434343" text-anchor="middle">3</text>
<text x="532.5" y="1126" font-family="'Liberation Sans', Arial, sans-serif" font-size="11" font-weight="normal" fill="#434343" text-anchor="middle">7</text>
<text x="610.5" y="1126" font-family="'Liberation Sans', Arial, sans-serif" font-size="11" font-weight="normal" fill="#434343" text-anchor="middle">9</text>
<text x="727.5" y="1126" font-family="'Liberation Sans', Arial, sans-serif" font-size="11" font-weight="normal" fill="#434343" text-anchor="middle">14</text>
<text x="804.5" y="1126" font-family="'Liberation Sans', Arial, sans-serif" font-size="11" font-weight="normal" fill="#434343" text-anchor="middle">16</text>
<text x="921.5" y="1126" font-family="'Liberation Sans', Arial, sans-serif" font-size="11" font-weight="normal" fill="#434343" text-anchor="middle">21</text>
<text x="999.5" y="1126" font-family="'Liberation Sans', Arial, sans-serif" font-size="11" font-weight="normal" fill="#434343" text-anchor="middle">23</text>
<text x="1116.5" y="1126" font-family="'Liberation Sans', Arial, sans-serif" font-size="11" font-weight="normal" fill="#434343" text-anchor="middle">28</text>
<rect x="1186" y="1040" width="50" height="15.5" fill="#eb4d5c"/>
<rect x="1186" y="1047" width="3" height="1" fill="#ffffff" shape-rendering="crispEdges"/>
<text x="1193.6" y="1052" font-family="'Liberation Sans', Arial, sans-serif" font-size="11" fill="#ffffff" letter-spacing="-0.2">1.15197</text>
<rect x="1187" y="1057" width="49" height="16" fill="#eb4d5c"/>
<text x="1189.8" y="1068.8" font-family="'Liberation Sans', Arial, sans-serif" font-size="11" fill="#ffffff" letter-spacing="-0.15">02:27:10</text>
<rect x="63" y="1072.6" width="1" height="25" fill="#2d3641"/>
<text transform="translate(15.97,1094.8) scale(0.947,1)" x="0" y="0" font-family="'Liberation Sans', Arial, sans-serif" font-weight="bold" font-size="27.0" fill="#2d3641" stroke="#2d3641" stroke-width="0.6">D</text>
<text transform="translate(38.95,1094.8) scale(0.839,1)" x="0" y="0" font-family="'Liberation Sans', Arial, sans-serif" font-weight="bold" font-size="27.0" fill="#2d3641" stroke="#2d3641" stroke-width="0.6">A</text>
<text transform="translate(60.03,1094.8) scale(0.972,1)" x="0" y="0" font-family="'Liberation Sans', Arial, sans-serif" font-weight="bold" font-size="27.0" fill="#2d3641" stroke="#2d3641" stroke-width="0.6">I</text>
<text transform="translate(71.20,1094.8) scale(0.867,1)" x="0" y="0" font-family="'Liberation Sans', Arial, sans-serif" font-weight="bold" font-size="27.0" fill="#2d3641" stroke="#2d3641" stroke-width="0.6">L</text>
<text transform="translate(87.77,1094.8) scale(0.849,1)" x="0" y="0" font-family="'Liberation Sans', Arial, sans-serif" font-weight="bold" font-size="27.0" fill="#2d3641" stroke="#2d3641" stroke-width="0.6">Y</text>
<text transform="translate(105.25,1094.8) scale(1.204,1)" x="0" y="0" font-family="'Liberation Sans', Arial, sans-serif" font-weight="bold" font-size="27.0" fill="#f7931e" stroke="#f7931e" stroke-width="0.6">F</text>
<text transform="translate(128.00,1094.8) scale(1.111,1)" x="0" y="0" font-family="'Liberation Sans', Arial, sans-serif" font-weight="bold" font-size="27.0" fill="#f7931e" stroke="#f7931e" stroke-width="0.6">X</text>
<rect x="9.5" y="14.5" width="12" height="12" rx="2" fill="none" stroke="#555" stroke-width="1"/>
<rect x="11" y="20" width="9" height="1" fill="#555"/>
<text x="27.7" y="27" font-family="'Liberation Sans', Arial, sans-serif" font-size="17" fill="#434343" letter-spacing="0.06">Euro Fx/U.S. Dollar, 180, FXCM</text>
<path d="M273.9 18.8 L282.4 18.8 L278.15 23 Z" fill="#a8a8a8"/>
<rect x="292" y="14" width="14" height="14" fill="rgba(190,190,190,0.7)"/><path d="M293.6 21 C296 16.2 302 16.2 304.4 21 C302 25.8 296 25.8 293.6 21 Z" fill="#fff"/><circle cx="299" cy="21" r="2.9" fill="rgba(190,190,190,1)"/><circle cx="299" cy="21" r="1.4" fill="#fff"/>
<text x="314.0" y="27" font-family="'Liberation Sans', Arial, sans-serif" font-size="15" fill="#434343">O</text>
<text x="327.7" y="27" font-family="'Liberation Sans', Arial, sans-serif" font-size="15" fill="#eb4d5c" letter-spacing="-0.34">1.15429</text>
<text x="389.1" y="27" font-family="'Liberation Sans', Arial, sans-serif" font-size="15" fill="#434343">H</text>
<text x="401.0" y="27" font-family="'Liberation Sans', Arial, sans-serif" font-size="15" fill="#eb4d5c" letter-spacing="-0.34">1.15533</text>
<text x="463.9" y="27" font-family="'Liberation Sans', Arial, sans-serif" font-size="15" fill="#434343">L</text>
<text x="473.7" y="27" font-family="'Liberation Sans', Arial, sans-serif" font-size="15" fill="#eb4d5c" letter-spacing="-0.34">1.15142</text>
<text x="535.8" y="27" font-family="'Liberation Sans', Arial, sans-serif" font-size="15" fill="#434343">C</text>
<text x="548.4" y="27" font-family="'Liberation Sans', Arial, sans-serif" font-size="15" fill="#eb4d5c" letter-spacing="-0.34">1.15197</text>
<text x="9.2" y="45.7" font-family="'Liberation Sans', Arial, sans-serif" font-size="12" fill="#434343">Vol (20)</text>
<path d="M54.8 40 L61.8 40 L58.3 43.2 Z" fill="#b0b0b0"/>
<rect x="72" y="35" width="14" height="14" fill="rgba(190,190,190,0.7)"/><path d="M73.6 42 C76 37.2 82 37.2 84.4 42 C82 46.8 76 46.8 73.6 42 Z" fill="#fff"/><circle cx="79" cy="42" r="2.9" fill="rgba(190,190,190,1)"/><circle cx="79" cy="42" r="1.4" fill="#fff"/>
<rect x="89" y="35" width="14" height="14" fill="rgba(190,190,190,0.7)"/>
<polygon points="99.82,40.82 101.49,40.89 101.49,43.11 99.82,43.18 99.54,43.87 100.67,45.09 99.09,46.67 97.87,45.54 97.18,45.82 97.11,47.49 94.89,47.49 94.82,45.82 94.13,45.54 92.91,46.67 91.33,45.09 92.46,43.87 92.18,43.18 90.51,43.11 90.51,40.89 92.18,40.82 92.46,40.13 91.33,38.91 92.91,37.33 94.13,38.46 94.82,38.18 94.89,36.51 97.11,36.51 97.18,38.18 97.87,38.46 99.09,37.33 100.67,38.91 99.54,40.13" fill="#fff"/>
<circle cx="96" cy="42" r="4.1" fill="#fff"/><circle cx="96" cy="42" r="1.8" fill="rgba(190,190,190,1)"/>
<rect x="106" y="35" width="14" height="14" fill="rgba(190,190,190,0.7)"/>
<path d="M108.5 37.5 L117.5 46.5 M117.5 37.5 L108.5 46.5" stroke="#fff" stroke-width="1.6"/>
<text x="127.6" y="46.3" font-family="'Liberation Sans', Arial, sans-serif" font-size="12" fill="#e8426a" letter-spacing="0.25">17.6K</text>
<text x="169.3" y="46.3" font-family="'Liberation Sans', Arial, sans-serif" font-size="12" fill="#f7a052" letter-spacing="0.25">32.399K</text>
</svg></body></html>
